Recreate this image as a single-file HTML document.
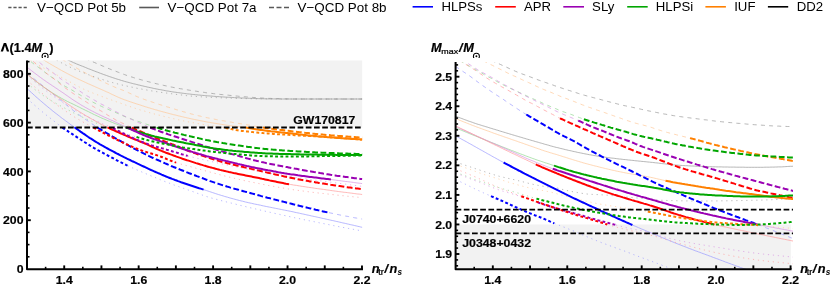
<!DOCTYPE html><html><head><meta charset="utf-8"><title>plot</title><style>html,body{margin:0;padding:0;background:#fff;}body{width:830px;height:286px;overflow:hidden;font-family:"Liberation Sans",sans-serif;}</style></head><body><svg width="830" height="286" viewBox="0 0 830 286" style="display:block;opacity:0.999">
<rect width="830" height="286" fill="#fff"/>
<defs>
<clipPath id="cl"><rect x="27.0" y="60.5" width="335.6" height="208.5"/></clipPath>
<clipPath id="cr"><rect x="455.6" y="62.0" width="337.4" height="207.0"/></clipPath>
<filter id="gs" x="0" y="0" width="830" height="286" filterUnits="userSpaceOnUse" color-interpolation-filters="sRGB"><feColorMatrix type="saturate" values="0"/></filter>
</defs>
<rect x="27.0" y="60.5" width="335.2" height="67.00" fill="#f2f2f2"/>
<rect x="455.6" y="224.45" width="335.19999999999993" height="44.55" fill="#f2f2f2"/>
<g clip-path="url(#cl)" fill="none">
<path d="M78.0 55.0 L79.5 55.7 L81.0 56.4 L82.5 57.1 L84.0 57.8 L85.5 58.5 L87.0 59.2 L88.5 59.9 L90.0 60.5 L91.5 61.2 L93.0 61.9 L94.5 62.5 L96.0 63.2 L97.5 63.8 L99.1 64.5 L100.6 65.1 L102.1 65.8 L103.6 66.4 L105.1 67.0 L106.6 67.6 L108.1 68.3 L109.6 68.9 L111.1 69.5 L112.6 70.1 L114.1 70.6 L115.6 71.2 L117.1 71.8 L118.6 72.4 L120.1 72.9 L121.6 73.5 L123.1 74.1 L124.6 74.6 L126.1 75.2 L127.6 75.7 L129.1 76.2 L130.6 76.7 L132.1 77.1 L133.6 77.6 L135.1 78.1 L136.6 78.5 L138.1 79.0 L139.7 79.4 L141.2 79.8 L142.7 80.2 L144.2 80.6 L145.7 81.0 L147.2 81.4 L148.7 81.8 L150.2 82.2 L151.7 82.6 L153.2 82.9 L154.7 83.3 L156.2 83.7 L157.7 84.0 L159.2 84.4 L160.7 84.7 L162.2 85.0 L163.7 85.4 L165.2 85.7 L166.7 86.0 L168.2 86.3 L169.7 86.7 L171.2 87.0 L172.7 87.3 L174.2 87.6 L175.7 87.8 L177.2 88.1 L178.7 88.4 L180.3 88.7 L181.8 88.9 L183.3 89.2 L184.8 89.4 L186.3 89.7 L187.8 89.9 L189.3 90.2 L190.8 90.4 L192.3 90.6 L193.8 90.9 L195.3 91.1 L196.8 91.3 L198.3 91.6 L199.8 91.8 L201.3 92.0 L202.8 92.2 L204.3 92.4 L205.8 92.7 L207.3 92.9 L208.8 93.1 L210.3 93.2 L211.8 93.4 L213.3 93.6 L214.8 93.8 L216.3 94.0 L217.8 94.1 L219.3 94.3 L220.9 94.5 L222.4 94.6 L223.9 94.8 L225.4 94.9 L226.9 95.1 L228.4 95.2 L229.9 95.4 L231.4 95.5 L232.9 95.7 L234.4 95.8 L235.9 96.0 L237.4 96.1 L238.9 96.3 L240.4 96.4 L241.9 96.5 L243.4 96.7 L244.9 96.8 L246.4 96.9 L247.9 97.0 L249.4 97.2 L250.9 97.3 L252.4 97.4 L253.9 97.5 L255.4 97.6 L256.9 97.7 L258.4 97.8 L259.9 97.9 L261.5 98.0 L263.0 98.1 L264.5 98.2 L266.0 98.2 L267.5 98.3 L269.0 98.4 L270.5 98.4 L272.0 98.5 L273.5 98.5 L275.0 98.6 L276.5 98.6 L278.0 98.6 L279.5 98.7 L281.0 98.7 L282.5 98.8 L284.0 98.8 L285.5 98.8 L287.0 98.9 L288.5 98.9 L290.0 98.9 L291.5 98.9 L293.0 99.0 L294.5 99.0 L296.0 99.0 L297.5 99.0 L299.0 99.0 L300.5 99.0 L302.1 99.0 L303.6 99.0 L305.1 99.0 L306.6 99.0 L308.1 99.0 L309.6 99.0 L311.1 99.0 L312.6 99.0 L314.1 99.0 L315.6 99.0 L317.1 99.0 L318.6 99.0 L320.1 99.0 L321.6 99.0 L323.1 99.0 L324.6 99.0 L326.1 99.0 L327.6 99.0 L329.1 99.0 L330.6 99.0 L332.1 99.0 L333.6 99.0 L335.1 99.0 L336.6 99.0 L338.1 99.0 L339.6 99.0 L341.1 99.0 L342.7 99.0 L344.2 99.0 L345.7 99.0 L347.2 99.0 L348.7 99.0 L350.2 99.0 L351.7 99.0 L353.2 99.0 L354.7 99.0 L356.2 99.0 L357.7 99.0 L359.2 99.0 L360.7 99.0 L362.2 99.0" stroke="#9a9a9a" stroke-width="0.72" stroke-dasharray="4 4.2"/>
<path d="M55.0 55.0 L56.5 55.9 L58.0 56.8 L59.5 57.7 L61.0 58.6 L62.5 59.6 L64.0 60.5 L65.5 61.4 L67.0 62.3 L68.5 63.2 L70.0 64.2 L71.5 65.1 L73.0 65.9 L74.5 66.8 L75.9 67.7 L77.4 68.5 L78.9 69.4 L80.4 70.2 L81.9 71.1 L83.4 71.9 L84.9 72.7 L86.4 73.5 L87.9 74.3 L89.4 75.1 L90.9 75.8 L92.4 76.6 L93.9 77.3 L95.4 78.1 L96.9 78.8 L98.4 79.5 L99.9 80.3 L101.4 81.0 L102.9 81.7 L104.4 82.4 L105.9 83.1 L107.4 83.8 L108.9 84.5 L110.4 85.2 L111.9 85.9 L113.4 86.5 L114.9 87.2 L116.4 87.8 L117.8 88.4 L119.3 88.9 L120.8 89.5 L122.3 90.0 L123.8 90.6 L125.3 91.2 L126.8 91.9 L128.3 92.6 L129.8 93.3 L131.3 94.0 L132.8 94.7 L134.3 95.4 L135.8 96.1 L137.3 96.7 L138.8 97.3 L140.3 97.9 L141.8 98.5 L143.3 99.0 L144.8 99.6 L146.3 100.1 L147.8 100.6 L149.3 101.1 L150.8 101.6 L152.3 102.1 L153.8 102.6 L155.3 103.1 L156.8 103.6 L158.3 104.1 L159.7 104.6 L161.2 105.0 L162.7 105.5 L164.2 106.0 L165.7 106.4 L167.2 106.9 L168.7 107.3 L170.2 107.8 L171.7 108.2 L173.2 108.7 L174.7 109.1 L176.2 109.6 L177.7 110.0 L179.2 110.5 L180.7 110.9 L182.2 111.4 L183.7 111.8 L185.2 112.2 L186.7 112.7 L188.2 113.1 L189.7 113.5 L191.2 113.9 L192.7 114.3 L194.2 114.7 L195.7 115.0 L197.2 115.4 L198.7 115.8 L200.2 116.1 L201.6 116.5 L203.1 116.8 L204.6 117.2 L206.1 117.5 L207.6 117.8 L209.1 118.1 L210.6 118.4 L212.1 118.7 L213.6 119.0 L215.1 119.3 L216.6 119.6 L218.1 119.9 L219.6 120.1 L221.1 120.4 L222.6 120.7 L224.1 120.9 L225.6 121.2 L227.1 121.4 L228.6 121.7 L230.1 122.0 L231.6 122.2 L233.1 122.5 L234.6 122.7 L236.1 123.0 L237.6 123.2 L239.1 123.5 L240.6 123.7 L242.1 124.0 L243.5 124.2 L245.0 124.5 L246.5 124.7 L248.0 125.0 L249.5 125.2 L251.0 125.5 L252.5 125.8 L254.0 126.1 L255.5 126.3 L257.0 126.6 L258.5 126.9 L260.0 127.1 L261.5 127.4 L263.0 127.6" stroke="#ffc999" stroke-width="0.72" stroke-dasharray="4 4.2"/>
<path d="M25.0 56.0 L26.5 57.5 L28.0 59.0 L29.5 60.4 L31.0 61.7 L32.5 62.9 L34.0 64.1 L35.5 65.2 L37.0 66.3 L38.5 67.4 L40.0 68.5 L41.5 69.6 L43.0 70.7 L44.5 71.9 L46.0 73.1 L47.5 74.3 L49.0 75.4 L50.5 76.5 L52.0 77.4 L53.5 78.3 L55.0 79.3 L56.5 80.2 L58.0 81.3 L59.5 82.5 L61.0 83.7 L62.5 84.8 L64.0 85.7 L65.5 86.5 L67.0 87.3 L68.5 88.1 L70.0 88.9 L71.5 89.8 L73.0 90.7 L74.5 91.6 L76.0 92.6 L77.5 93.5 L79.0 94.4 L80.5 95.2 L82.0 96.1 L83.5 96.9 L85.0 97.8 L86.5 98.6 L88.0 99.5 L89.5 100.3 L91.0 101.1 L92.4 101.9 L93.9 102.7 L95.4 103.4 L96.9 104.2 L98.4 104.9 L99.9 105.6 L101.4 106.3 L102.9 107.0 L104.4 107.7 L105.9 108.4 L107.4 109.0 L108.9 109.7 L110.4 110.3 L111.9 110.9 L113.4 111.5 L114.9 112.1 L116.4 112.8 L117.9 113.5 L119.4 114.2 L120.9 114.9 L122.4 115.6 L123.9 116.2 L125.4 116.8 L126.9 117.4 L128.4 117.9 L129.9 118.5 L131.4 119.0 L132.9 119.6 L134.4 120.1 L135.9 120.6 L137.4 121.1 L138.9 121.6 L140.4 122.1 L141.9 122.7 L143.4 123.2 L144.9 123.7 L146.4 124.2 L147.9 124.7 L149.4 125.2 L150.9 125.7 L152.4 126.2 L153.9 126.7 L155.4 127.1 L156.9 127.6" stroke="#94d894" stroke-width="0.72" stroke-dasharray="4 4.2"/>
<path d="M27.0 52.0 L28.5 53.3 L30.0 54.5 L31.5 55.8 L33.0 57.1 L34.5 58.3 L36.0 59.6 L37.5 60.8 L39.0 62.0 L40.5 63.3 L42.0 64.5 L43.5 65.7 L45.0 66.8 L46.5 67.9 L48.1 69.0 L49.6 70.1 L51.1 71.2 L52.6 72.4 L54.1 73.6 L55.6 74.8 L57.1 76.0 L58.6 77.2 L60.1 78.3 L61.6 79.4 L63.1 80.5 L64.6 81.5 L66.1 82.5 L67.6 83.4 L69.1 84.4 L70.6 85.3 L72.1 86.3 L73.6 87.2 L75.1 88.2 L76.6 89.1 L78.1 90.1 L79.6 91.0 L81.1 92.0 L82.6 93.0 L84.1 94.0 L85.6 95.0 L87.1 95.9 L88.7 96.8 L90.2 97.7 L91.7 98.5 L93.2 99.4 L94.7 100.3 L96.2 101.2 L97.7 102.1 L99.2 103.0 L100.7 103.8 L102.2 104.5 L103.7 105.3 L105.2 106.0 L106.7 106.8 L108.2 107.6 L109.7 108.4 L111.2 109.2 L112.7 110.0 L114.2 110.8 L115.7 111.6 L117.2 112.3 L118.7 113.1 L120.2 113.9 L121.7 114.7 L123.2 115.4 L124.7 116.2 L126.2 116.9 L127.7 117.6 L129.2 118.3 L130.8 119.0 L132.3 119.7 L133.8 120.4 L135.3 121.1 L136.8 121.8 L138.3 122.5 L139.8 123.1 L141.3 123.8 L142.8 124.5 L144.3 125.1 L145.8 125.7 L147.3 126.4 L148.8 127.0 L150.3 127.6" stroke="#d894e2" stroke-width="0.72" stroke-dasharray="4 4.2"/>
<path d="M27.0 56.0 L28.5 57.3 L30.0 58.6 L31.5 59.9 L33.0 61.3 L34.5 62.6 L36.0 64.0 L37.5 65.3 L39.0 66.7 L40.5 68.1 L42.0 69.5 L43.5 70.8 L44.9 72.1 L46.4 73.3 L47.9 74.4 L49.4 75.4 L50.9 76.5 L52.4 77.6 L53.9 78.8 L55.4 80.0 L56.9 81.2 L58.4 82.5 L59.9 83.7 L61.4 84.9 L62.9 86.1 L64.4 87.3 L65.9 88.4 L67.4 89.5 L68.9 90.5 L70.4 91.6 L71.9 92.6 L73.4 93.6 L74.9 94.6 L76.4 95.6 L77.9 96.6 L79.3 97.6 L80.8 98.5 L82.3 99.5 L83.8 100.4 L85.3 101.4 L86.8 102.3 L88.3 103.3 L89.8 104.4 L91.3 105.4 L92.8 106.3 L94.3 107.2 L95.8 108.1 L97.3 108.9 L98.8 109.7 L100.3 110.5 L101.8 111.4 L103.3 112.3 L104.8 113.3 L106.3 114.2 L107.8 115.2 L109.3 116.1 L110.8 117.0 L112.3 117.9 L113.8 118.7 L115.2 119.6 L116.7 120.4 L118.2 121.1 L119.7 121.9 L121.2 122.6 L122.7 123.3 L124.2 124.0 L125.7 124.8 L127.2 125.5 L128.7 126.2 L130.2 126.9 L131.7 127.6" stroke="#ff9c9c" stroke-width="0.72" stroke-dasharray="4 4.2"/>
<path d="M27.0 73.5 L28.5 74.6 L30.0 75.7 L31.5 76.9 L33.0 78.0 L34.5 79.2 L36.0 80.3 L37.5 81.5 L39.0 82.7 L40.5 83.9 L42.0 85.1 L43.5 86.3 L45.0 87.5 L46.5 88.8 L48.0 90.0 L49.5 91.2 L51.0 92.4 L52.5 93.6 L54.0 94.8 L55.5 96.0 L57.0 97.2 L58.5 98.4 L60.0 99.6 L61.5 100.8 L63.0 102.0 L64.5 103.2 L66.0 104.5 L67.5 105.7 L69.0 107.0 L70.5 108.2 L72.0 109.4 L73.5 110.7 L75.0 111.8 L76.5 113.0 L78.0 114.1 L79.5 115.2 L81.0 116.3 L82.5 117.3 L84.0 118.4 L85.5 119.4 L87.0 120.4 L88.5 121.4 L90.0 122.5 L91.5 123.5 L93.0 124.5 L94.5 125.5 L96.0 126.5 L97.5 127.5 M329.1 212.7 L330.6 213.0 L332.1 213.3 L333.6 213.6 L335.1 214.0 L336.6 214.3 L338.1 214.6 L339.6 214.9 L341.1 215.2 L342.6 215.5 L344.1 215.8 L345.6 216.1 L347.2 216.3 L348.7 216.6 L350.2 216.9 L351.7 217.2 L353.2 217.5 L354.7 217.8 L356.2 218.0 L357.7 218.3 L359.2 218.6 L360.7 218.8 L362.2 219.1" stroke="#9c9cff" stroke-width="0.72" stroke-dasharray="4 4.2"/>
<path d="M60.0 55.0 L61.5 56.0 L63.0 57.0 L64.5 57.9 L66.0 58.8 L67.5 59.7 L69.0 60.5 L70.5 61.2 L72.0 61.9 L73.5 62.6 L75.0 63.2 L76.5 63.9 L78.0 64.5 L79.5 65.1 L81.0 65.7 L82.6 66.3 L84.1 66.9 L85.6 67.5 L87.1 68.2 L88.6 68.8 L90.1 69.3 L91.6 69.9 L93.1 70.5 L94.6 71.1 L96.1 71.7 L97.6 72.2 L99.1 72.8 L100.6 73.4 L102.1 73.9 L103.6 74.5 L105.1 75.0 L106.6 75.5 L108.1 76.1 L109.6 76.6 L111.1 77.1 L112.6 77.6 L114.1 78.1 L115.6 78.6 L117.1 79.1 L118.6 79.5 L120.1 80.0 L121.6 80.5 L123.1 80.9 L124.6 81.4 L126.2 81.8 L127.7 82.2 L129.2 82.6 L130.7 83.0 L132.2 83.4 L133.7 83.8 L135.2 84.1 L136.7 84.5 L138.2 84.9 L139.7 85.2 L141.2 85.6 L142.7 85.9 L144.2 86.3 L145.7 86.6 L147.2 87.0 L148.7 87.3 L150.2 87.6 L151.7 87.9 L153.2 88.3 L154.7 88.6 L156.2 88.9 L157.7 89.2 L159.2 89.5 L160.7 89.7 L162.2 90.0 L163.7 90.3 L165.2 90.6 L166.7 90.9 L168.3 91.1 L169.8 91.4 L171.3 91.6 L172.8 91.9 L174.3 92.1 L175.8 92.3 L177.3 92.5 L178.8 92.7 L180.3 92.9 L181.8 93.1 L183.3 93.3 L184.8 93.5 L186.3 93.7 L187.8 93.9 L189.3 94.0 L190.8 94.2 L192.3 94.4 L193.8 94.5 L195.3 94.7 L196.8 94.8 L198.3 95.0 L199.8 95.1 L201.3 95.3 L202.8 95.4 L204.3 95.5 L205.8 95.7 L207.3 95.8 L208.8 95.9 L210.3 96.0 L211.9 96.1 L213.4 96.3 L214.9 96.4 L216.4 96.5 L217.9 96.6 L219.4 96.7 L220.9 96.8 L222.4 96.9 L223.9 97.0 L225.4 97.1 L226.9 97.2 L228.4 97.3 L229.9 97.3 L231.4 97.4 L232.9 97.5 L234.4 97.6 L235.9 97.7 L237.4 97.7 L238.9 97.8 L240.4 97.9 L241.9 98.0 L243.4 98.0 L244.9 98.1 L246.4 98.2 L247.9 98.2 L249.4 98.3 L250.9 98.3 L252.4 98.4 L253.9 98.5 L255.5 98.5 L257.0 98.6 L258.5 98.6 L260.0 98.7 L261.5 98.7 L263.0 98.8 L264.5 98.8 L266.0 98.8 L267.5 98.9 L269.0 98.9 L270.5 98.9 L272.0 98.9 L273.5 98.9 L275.0 98.9 L276.5 98.9 L278.0 98.9 L279.5 99.0 L281.0 99.0 L282.5 99.0 L284.0 99.0 L285.5 99.0 L287.0 99.0 L288.5 99.0 L290.0 99.0 L291.5 99.0 L293.0 99.0 L294.5 99.0 L296.0 99.0 L297.6 99.0 L299.1 99.0 L300.6 99.0 L302.1 99.0 L303.6 99.0 L305.1 99.0 L306.6 99.0 L308.1 99.0 L309.6 99.0 L311.1 99.0 L312.6 99.0 L314.1 99.0 L315.6 99.0 L317.1 99.0 L318.6 99.0 L320.1 99.0 L321.6 99.0 L323.1 99.0 L324.6 99.0 L326.1 99.0 L327.6 99.0 L329.1 99.0 L330.6 99.0 L332.1 99.0 L333.6 99.0 L335.1 99.0 L336.6 99.0 L338.1 99.0 L339.6 99.0 L341.2 99.0 L342.7 99.0 L344.2 99.0 L345.7 99.0 L347.2 99.0 L348.7 99.0 L350.2 99.0 L351.7 99.0 L353.2 99.0 L354.7 99.0 L356.2 99.0 L357.7 99.0 L359.2 99.0 L360.7 99.0 L362.2 99.0" stroke="#9a9a9a" stroke-width="0.72"/>
<path d="M36.0 55.0 L37.5 56.0 L39.0 57.0 L40.5 58.0 L42.0 58.9 L43.5 59.9 L45.0 60.8 L46.5 61.7 L48.0 62.6 L49.5 63.5 L51.0 64.4 L52.5 65.3 L54.0 66.1 L55.5 67.0 L57.0 67.8 L58.4 68.7 L59.9 69.5 L61.4 70.4 L62.9 71.2 L64.4 72.0 L65.9 72.8 L67.4 73.6 L68.9 74.4 L70.4 75.2 L71.9 75.9 L73.4 76.7 L74.9 77.5 L76.4 78.2 L77.9 78.9 L79.4 79.6 L80.9 80.3 L82.4 81.0 L83.9 81.7 L85.4 82.4 L86.9 83.1 L88.4 83.8 L89.9 84.4 L91.4 85.1 L92.9 85.8 L94.4 86.4 L95.9 87.1 L97.4 87.7 L98.8 88.4 L100.3 89.0 L101.8 89.7 L103.3 90.3 L104.8 91.0 L106.3 91.7 L107.8 92.3 L109.3 93.0 L110.8 93.8 L112.3 94.5 L113.8 95.2 L115.3 95.9 L116.8 96.6 L118.3 97.3 L119.8 97.9 L121.3 98.5 L122.8 99.1 L124.3 99.7 L125.8 100.2 L127.3 100.7 L128.8 101.3 L130.3 101.8 L131.8 102.3 L133.3 102.8 L134.8 103.3 L136.3 103.8 L137.8 104.3 L139.3 104.7 L140.8 105.2 L142.2 105.7 L143.7 106.2 L145.2 106.7 L146.7 107.1 L148.2 107.6 L149.7 108.0 L151.2 108.5 L152.7 108.9 L154.2 109.4 L155.7 109.8 L157.2 110.2 L158.7 110.7 L160.2 111.1 L161.7 111.5 L163.2 111.9 L164.7 112.3 L166.2 112.7 L167.7 113.1 L169.2 113.5 L170.7 113.9 L172.2 114.3 L173.7 114.7 L175.2 115.0 L176.7 115.4 L178.2 115.8 L179.7 116.1 L181.2 116.5 L182.7 116.8 L184.1 117.2 L185.6 117.5 L187.1 117.9 L188.6 118.2 L190.1 118.5 L191.6 118.9 L193.1 119.2 L194.6 119.5 L196.1 119.8 L197.6 120.1 L199.1 120.4 L200.6 120.7 L202.1 121.0 L203.6 121.3 L205.1 121.6 L206.6 121.9 L208.1 122.2 L209.6 122.4 L211.1 122.7 L212.6 122.9 L214.1 123.2 L215.6 123.4 L217.1 123.7 L218.6 123.9 L220.1 124.2 L221.6 124.4 L223.1 124.6 L224.6 124.9 L226.0 125.1 L227.5 125.3 L229.0 125.5 L230.5 125.7 L232.0 125.9 L233.5 126.1 L235.0 126.2 L236.5 126.4 L238.0 126.6 L239.5 126.8 L241.0 126.9 L242.5 127.1 L244.0 127.3 L245.5 127.5" stroke="#ffc999" stroke-width="0.72"/>
<path d="M27.0 74.0 L28.5 75.3 L30.0 76.5 L31.5 77.8 L33.0 79.0 L34.5 80.2 L36.0 81.4 L37.5 82.5 L39.0 83.7 L40.5 84.8 L42.0 85.9 L43.5 87.0 L45.0 88.0 L46.5 89.1 L48.0 90.1 L49.5 91.1 L51.0 92.0 L52.5 93.0 L54.0 93.9 L55.5 94.8 L57.0 95.7 L58.5 96.6 L60.0 97.4 L61.5 98.3 L63.0 99.1 L64.5 99.9 L66.0 100.7 L67.5 101.5 L69.0 102.2 L70.5 102.9 L72.0 103.6 L73.5 104.4 L75.0 105.1 L76.5 105.8 L78.0 106.6 L79.5 107.3 L81.0 108.1 L82.5 108.8 L84.0 109.5 L85.5 110.3 L87.0 111.0 L88.5 111.7 L90.0 112.5 L91.5 113.2 L93.0 114.0 L94.5 114.7 L96.0 115.4 L97.5 116.1 L99.0 116.8 L100.5 117.5 L102.0 118.2 L103.5 118.8 L105.0 119.4 L106.5 120.1 L108.0 120.7 L109.5 121.3 L111.0 121.9 L112.5 122.5 L114.0 123.1 L115.5 123.7 L117.0 124.2 L118.5 124.8 L120.0 125.3 L121.5 125.9 L123.0 126.4 L124.5 127.0 L126.0 127.5" stroke="#94d894" stroke-width="0.72"/>
<path d="M27.0 67.2 L28.5 68.4 L30.0 69.5 L31.5 70.7 L33.0 71.8 L34.5 73.0 L36.0 74.1 L37.4 75.2 L38.9 76.3 L40.4 77.4 L41.9 78.5 L43.4 79.6 L44.9 80.6 L46.4 81.7 L47.9 82.7 L49.4 83.7 L50.9 84.7 L52.4 85.7 L53.9 86.7 L55.4 87.7 L56.9 88.7 L58.3 89.7 L59.8 90.7 L61.3 91.7 L62.8 92.7 L64.3 93.7 L65.8 94.8 L67.3 95.8 L68.8 96.9 L70.3 97.9 L71.8 99.0 L73.3 100.0 L74.8 100.9 L76.3 101.9 L77.7 102.8 L79.2 103.7 L80.7 104.7 L82.2 105.6 L83.7 106.4 L85.2 107.3 L86.7 108.1 L88.2 109.0 L89.7 109.8 L91.2 110.6 L92.7 111.3 L94.2 112.1 L95.7 112.9 L97.1 113.6 L98.6 114.3 L100.1 115.1 L101.6 115.8 L103.1 116.5 L104.6 117.2 L106.1 117.8 L107.6 118.5 L109.1 119.2 L110.6 119.9 L112.1 120.5 L113.6 121.2 L115.1 121.9 L116.6 122.6 L118.0 123.3 L119.5 124.0 L121.0 124.7 L122.5 125.4 L124.0 126.1 L125.5 126.8 L127.0 127.5 M330.9 179.5 L332.4 179.7 L333.9 179.9 L335.4 180.1 L336.9 180.3 L338.4 180.5 L339.8 180.7 L341.3 180.9 L342.8 181.1 L344.3 181.3 L345.8 181.5 L347.3 181.6 L348.8 181.8 L350.3 182.0 L351.8 182.2 L353.3 182.4 L354.7 182.6 L356.2 182.8 L357.7 183.0 L359.2 183.2 L360.7 183.4 L362.2 183.6" stroke="#d894e2" stroke-width="0.72"/>
<path d="M27.0 74.2 L28.5 75.4 L30.0 76.5 L31.5 77.7 L33.0 78.8 L34.5 80.0 L35.9 81.1 L37.4 82.2 L38.9 83.4 L40.4 84.5 L41.9 85.6 L43.4 86.7 L44.9 87.8 L46.4 88.9 L47.9 90.0 L49.4 91.1 L50.9 92.1 L52.3 93.2 L53.8 94.2 L55.3 95.3 L56.8 96.3 L58.3 97.4 L59.8 98.4 L61.3 99.4 L62.8 100.5 L64.3 101.5 L65.8 102.6 L67.2 103.6 L68.7 104.7 L70.2 105.7 L71.7 106.7 L73.2 107.7 L74.7 108.7 L76.2 109.7 L77.7 110.6 L79.2 111.6 L80.7 112.5 L82.2 113.4 L83.6 114.3 L85.1 115.2 L86.6 116.1 L88.1 116.9 L89.6 117.8 L91.1 118.7 L92.6 119.5 L94.1 120.3 L95.6 121.2 L97.1 122.0 L98.6 122.8 L100.0 123.6 L101.5 124.4 L103.0 125.2 L104.5 125.9 L106.0 126.7 L107.5 127.4 M289.0 184.2 L290.5 184.5 L292.0 184.7 L293.5 185.0 L295.0 185.2 L296.5 185.4 L298.0 185.7 L299.5 185.9 L301.0 186.2 L302.4 186.4 L303.9 186.6 L305.4 186.8 L306.9 187.1 L308.4 187.3 L309.9 187.5 L311.4 187.7 L312.9 187.9 L314.4 188.2 L315.9 188.4 L317.4 188.6 L318.9 188.8 L320.4 189.0 L321.9 189.2 L323.4 189.4 L324.9 189.6 L326.3 189.8 L327.8 190.0 L329.3 190.2 L330.8 190.5 L332.3 190.7 L333.8 190.9 L335.3 191.1 L336.8 191.3 L338.3 191.5 L339.8 191.7 L341.3 191.9 L342.8 192.1 L344.3 192.3 L345.8 192.4 L347.3 192.6 L348.8 192.8 L350.2 193.0 L351.7 193.2 L353.2 193.4 L354.7 193.6 L356.2 193.8 L357.7 194.0 L359.2 194.1 L360.7 194.3 L362.2 194.5" stroke="#ff9c9c" stroke-width="0.72"/>
<path d="M27.0 88.5 L28.5 89.9 L30.0 91.3 L31.5 92.6 L32.9 94.0 L34.4 95.3 L35.9 96.7 L37.4 98.0 L38.9 99.3 L40.4 100.6 L41.8 101.8 L43.3 103.1 L44.8 104.4 L46.3 105.6 L47.8 106.9 L49.3 108.1 L50.8 109.3 L52.2 110.5 L53.7 111.7 L55.2 112.9 L56.7 114.0 L58.2 115.2 L59.7 116.3 L61.1 117.5 L62.6 118.6 L64.1 119.7 L65.6 120.8 L67.1 121.9 L68.6 123.0 L70.0 124.1 L71.5 125.2 L73.0 126.2 L74.5 127.3 M203.6 189.6 L205.1 190.1 L206.6 190.6 L208.1 191.1 L209.6 191.6 L211.1 192.1 L212.6 192.6 L214.1 193.1 L215.6 193.6 L217.1 194.1 L218.6 194.6 L220.1 195.0 L221.6 195.5 L223.1 195.9 L224.5 196.4 L226.0 196.8 L227.5 197.2 L229.0 197.7 L230.5 198.1 L232.0 198.5 L233.5 198.9 L235.0 199.3 L236.5 199.7 L238.0 200.1 L239.5 200.5 L241.0 200.9 L242.5 201.2 L244.0 201.6 L245.5 202.0 L247.0 202.3 L248.5 202.7 L250.0 203.0 L251.5 203.3 L253.0 203.7 L254.5 204.0 L256.0 204.3 L257.5 204.6 L259.0 204.9 L260.5 205.2 L262.0 205.6 L263.4 205.9 L264.9 206.2 L266.4 206.5 L267.9 206.8 L269.4 207.1 L270.9 207.4 L272.4 207.7 L273.9 208.0 L275.4 208.3 L276.9 208.6 L278.4 208.9 L279.9 209.2 L281.4 209.5 L282.9 209.8 L284.4 210.1 L285.9 210.4 L287.4 210.7 L288.9 211.0 L290.4 211.3 L291.9 211.6 L293.4 211.9 L294.9 212.3 L296.4 212.6 L297.9 212.9 L299.4 213.2 L300.9 213.6 L302.4 213.9 L303.8 214.2 L305.3 214.5 L306.8 214.9 L308.3 215.2 L309.8 215.5 L311.3 215.9 L312.8 216.2 L314.3 216.5 L315.8 216.8 L317.3 217.2 L318.8 217.5 L320.3 217.8 L321.8 218.2 L323.3 218.5 L324.8 218.8 L326.3 219.2 L327.8 219.5 L329.3 219.8 L330.8 220.2 L332.3 220.5 L333.8 220.8 L335.3 221.2 L336.8 221.5 L338.3 221.8 L339.8 222.2 L341.3 222.5 L342.7 222.9 L344.2 223.2 L345.7 223.5 L347.2 223.9 L348.7 224.2 L350.2 224.6 L351.7 224.9 L353.2 225.2 L354.7 225.6 L356.2 225.9 L357.7 226.3 L359.2 226.6 L360.7 227.0 L362.2 227.3" stroke="#9c9cff" stroke-width="0.72"/>
<path d="M48.0 55.0 L49.5 55.9 L51.0 56.8 L52.5 57.7 L54.0 58.6 L55.5 59.5 L57.0 60.3 L58.5 61.2 L60.0 62.0 L61.5 62.8 L63.0 63.6 L64.5 64.4 L66.0 65.2 L67.5 65.9 L69.0 66.7 L70.6 67.4 L72.1 68.1 L73.6 68.7 L75.1 69.4 L76.6 70.0 L78.1 70.7 L79.6 71.3 L81.1 71.9 L82.6 72.5 L84.1 73.0 L85.6 73.6 L87.1 74.2 L88.6 74.7 L90.1 75.3 L91.6 75.9 L93.1 76.4 L94.6 76.9 L96.1 77.5 L97.6 78.0 L99.1 78.5 L100.6 79.0 L102.1 79.4 L103.6 79.9 L105.1 80.4 L106.6 80.8 L108.1 81.3 L109.6 81.7 L111.1 82.1 L112.6 82.6 L114.1 83.0 L115.7 83.4 L117.2 83.8 L118.7 84.2 L120.2 84.5 L121.7 84.9 L123.2 85.3 L124.7 85.6 L126.2 85.9 L127.7 86.3 L129.2 86.6 L130.7 86.9 L132.2 87.2 L133.7 87.6 L135.2 87.9 L136.7 88.2 L138.2 88.5 L139.7 88.7 L141.2 89.0 L142.7 89.3 L144.2 89.6 L145.7 89.8 L147.2 90.1 L148.7 90.4 L150.2 90.6 L151.7 90.9 L153.2 91.1 L154.7 91.3 L156.2 91.6 L157.7 91.8 L159.2 92.0 L160.8 92.3 L162.3 92.5 L163.8 92.7 L165.3 92.9 L166.8 93.1 L168.3 93.3 L169.8 93.5 L171.3 93.7 L172.8 93.9 L174.3 94.1 L175.8 94.3 L177.3 94.5 L178.8 94.7 L180.3 94.9 L181.8 95.0 L183.3 95.2 L184.8 95.4 L186.3 95.6 L187.8 95.7 L189.3 95.9 L190.8 96.0 L192.3 96.2 L193.8 96.3 L195.3 96.4 L196.8 96.5 L198.3 96.6 L199.8 96.7 L201.3 96.8 L202.8 96.9 L204.3 97.0 L205.9 97.1 L207.4 97.2 L208.9 97.2 L210.4 97.3 L211.9 97.4 L213.4 97.5 L214.9 97.5 L216.4 97.6 L217.9 97.7 L219.4 97.7 L220.9 97.8 L222.4 97.9 L223.9 97.9 L225.4 98.0 L226.9 98.0 L228.4 98.1 L229.9 98.1 L231.4 98.2 L232.9 98.2 L234.4 98.3 L235.9 98.3 L237.4 98.4 L238.9 98.4 L240.4 98.5 L241.9 98.5 L243.4 98.6 L244.9 98.6 L246.4 98.6 L247.9 98.7 L249.4 98.7 L251.0 98.7 L252.5 98.7 L254.0 98.8 L255.5 98.8 L257.0 98.8 L258.5 98.8 L260.0 98.8 L261.5 98.8 L263.0 98.9 L264.5 98.9 L266.0 98.9 L267.5 98.9 L269.0 98.9 L270.5 98.9 L272.0 98.9 L273.5 98.9 L275.0 98.9 L276.5 98.9 L278.0 98.9 L279.5 98.9 L281.0 99.0 L282.5 99.0 L284.0 99.0 L285.5 99.0 L287.0 99.0 L288.5 99.0 L290.0 99.0 L291.5 99.0 L293.0 99.0 L294.5 99.0 L296.1 99.0 L297.6 99.0 L299.1 99.0 L300.6 99.0 L302.1 99.0 L303.6 99.0 L305.1 99.0 L306.6 99.0 L308.1 99.0 L309.6 99.0 L311.1 99.0 L312.6 99.0 L314.1 99.0 L315.6 99.0 L317.1 99.0 L318.6 99.0 L320.1 99.0 L321.6 99.0 L323.1 99.0 L324.6 99.0 L326.1 99.0 L327.6 99.0 L329.1 99.0 L330.6 99.0 L332.1 99.0 L333.6 99.0 L335.1 99.0 L336.6 99.0 L338.1 99.0 L339.6 99.0 L341.2 99.0 L342.7 99.0 L344.2 99.0 L345.7 99.0 L347.2 99.0 L348.7 99.0 L350.2 99.0 L351.7 99.0 L353.2 99.0 L354.7 99.0 L356.2 99.0 L357.7 99.0 L359.2 99.0 L360.7 99.0 L362.2 99.0" stroke="#9a9a9a" stroke-width="0.72" stroke-dasharray="1.2 3.8"/>
<path d="M22.0 55.0 L23.5 55.9 L25.0 56.9 L26.5 57.8 L28.0 58.7 L29.5 59.6 L31.0 60.5 L32.5 61.4 L34.0 62.3 L35.5 63.2 L37.0 64.1 L38.5 65.0 L40.0 65.8 L41.5 66.7 L42.9 67.6 L44.4 68.4 L45.9 69.3 L47.4 70.1 L48.9 70.9 L50.4 71.7 L51.9 72.4 L53.4 73.2 L54.9 74.0 L56.4 74.7 L57.9 75.5 L59.4 76.2 L60.9 77.0 L62.4 77.8 L63.9 78.6 L65.4 79.4 L66.9 80.2 L68.4 81.1 L69.9 81.9 L71.4 82.7 L72.9 83.6 L74.4 84.4 L75.9 85.2 L77.4 86.0 L78.9 86.8 L80.4 87.5 L81.9 88.3 L83.3 89.0 L84.8 89.6 L86.3 90.3 L87.8 90.9 L89.3 91.6 L90.8 92.2 L92.3 92.8 L93.8 93.4 L95.3 94.0 L96.8 94.6 L98.3 95.1 L99.8 95.7 L101.3 96.3 L102.8 96.8 L104.3 97.4 L105.8 98.0 L107.3 98.5 L108.8 99.1 L110.3 99.6 L111.8 100.1 L113.3 100.7 L114.8 101.2 L116.3 101.7 L117.8 102.3 L119.3 102.8 L120.8 103.3 L122.3 103.8 L123.8 104.3 L125.2 104.9 L126.7 105.4 L128.2 105.9 L129.7 106.4 L131.2 107.0 L132.7 107.5 L134.2 108.0 L135.7 108.5 L137.2 109.0 L138.7 109.4 L140.2 109.9 L141.7 110.3 L143.2 110.8 L144.7 111.2 L146.2 111.7 L147.7 112.1 L149.2 112.5 L150.7 113.0 L152.2 113.4 L153.7 113.8 L155.2 114.2 L156.7 114.6 L158.2 115.0 L159.7 115.3 L161.2 115.7 L162.7 116.1 L164.2 116.5 L165.6 116.8 L167.1 117.2 L168.6 117.5 L170.1 117.9 L171.6 118.2 L173.1 118.6 L174.6 118.9 L176.1 119.3 L177.6 119.6 L179.1 119.9 L180.6 120.2 L182.1 120.6 L183.6 120.9 L185.1 121.2 L186.6 121.5 L188.1 121.8 L189.6 122.1 L191.1 122.4 L192.6 122.7 L194.1 122.9 L195.6 123.2 L197.1 123.5 L198.6 123.7 L200.1 123.9 L201.6 124.2 L203.1 124.4 L204.6 124.6 L206.0 124.9 L207.5 125.1 L209.0 125.3 L210.5 125.6 L212.0 125.8 L213.5 126.1 L215.0 126.3 L216.5 126.5 L218.0 126.8 L219.5 127.0 L221.0 127.3 L222.5 127.5 L224.0 127.7 L225.5 128.0" stroke="#ffc999" stroke-width="0.72" stroke-dasharray="1.2 3.8"/>
<path d="M27.0 83.0 L28.5 84.3 L30.0 85.6 L31.5 86.8 L33.0 88.1 L34.5 89.3 L36.0 90.4 L37.5 91.5 L39.0 92.6 L40.5 93.7 L42.0 94.7 L43.5 95.7 L45.0 96.7 L46.5 97.7 L48.0 98.6 L49.5 99.5 L51.0 100.5 L52.5 101.4 L54.0 102.2 L55.5 103.1 L57.0 103.9 L58.5 104.8 L60.0 105.6 L61.5 106.4 L63.0 107.2 L64.5 108.0 L66.0 108.8 L67.5 109.6 L69.0 110.4 L70.5 111.2 L72.0 112.0 L73.5 112.8 L75.0 113.6 L76.5 114.3 L78.0 115.0 L79.5 115.8 L81.0 116.5 L82.5 117.2 L84.0 117.8 L85.5 118.5 L87.0 119.2 L88.5 119.8 L90.0 120.4 L91.5 121.1 L93.0 121.7 L94.5 122.3 L96.0 122.9 L97.5 123.5 L99.0 124.1 L100.5 124.7 L102.0 125.3 L103.5 125.9 L105.0 126.4 L106.5 127.0 L108.0 127.5 L109.5 128.1 L111.0 128.6 L112.5 129.1 L114.0 129.7 L115.5 130.2 L117.0 130.7 L118.5 131.2 L120.0 131.7 L121.5 132.2 L123.0 132.7 L124.5 133.2 L126.0 133.6 L127.5 134.1 L129.0 134.6 L130.5 135.1 L132.0 135.5 L133.5 136.0 L135.0 136.5 L136.5 136.9" stroke="#94d894" stroke-width="0.72" stroke-dasharray="1.2 3.8"/>
<path d="M27.0 75.0 L28.5 76.3 L30.0 77.7 L31.5 79.0 L33.0 80.3 L34.5 81.6 L36.1 82.8 L37.6 84.1 L39.1 85.3 L40.6 86.5 L42.1 87.7 L43.6 88.9 L45.1 90.1 L46.6 91.2 L48.1 92.4 L49.6 93.5 L51.1 94.6 L52.6 95.7 L54.2 96.7 L55.7 97.8 L57.2 98.8 L58.7 99.9 L60.2 100.9 L61.7 101.9 L63.2 102.9 L64.7 103.8 L66.2 104.8 L67.7 105.7 L69.2 106.6 L70.8 107.5 L72.3 108.4 L73.8 109.3 L75.3 110.2 L76.8 111.1 L78.3 111.9 L79.8 112.7 L81.3 113.6 L82.8 114.4 L84.3 115.2 L85.8 115.9 L87.4 116.7 L88.9 117.4 L90.4 118.1 L91.9 118.8 L93.4 119.5 L94.9 120.2 L96.4 120.9 L97.9 121.6 L99.4 122.2 L100.9 122.9 L102.4 123.6 L103.9 124.3 L105.5 124.9 L107.0 125.6 L108.5 126.2 L110.0 126.9 L111.5 127.6 L113.0 128.3 M187.7 155.9 L189.2 156.3 L190.7 156.7 L192.2 157.1 L193.7 157.4 L195.2 157.8 L196.7 158.2 L198.2 158.5 L199.7 158.9 L201.2 159.2 L202.7 159.6 L204.2 159.9 L205.8 160.3 L207.3 160.6 L208.8 160.9 L210.3 161.3 L211.8 161.6 L213.3 162.0 L214.8 162.3 L216.3 162.6 L217.8 163.0 L219.3 163.3 L220.8 163.6 L222.3 164.0 L223.8 164.3 L225.3 164.6 L226.8 164.9 L228.3 165.2 L229.8 165.6 L231.3 165.9 L232.8 166.2 L234.3 166.5 L235.8 166.8 L237.3 167.1 L238.8 167.4 L240.4 167.7 L241.9 168.0 L243.4 168.3 L244.9 168.6 L246.4 168.9 L247.9 169.2 L249.4 169.5 L250.9 169.8 L252.4 170.0 L253.9 170.3 L255.4 170.6 L256.9 170.9 L258.4 171.1 L259.9 171.4 L261.4 171.7 L262.9 171.9 L264.4 172.2 L265.9 172.5 L267.4 172.7 L268.9 173.0 L270.4 173.2 L271.9 173.5 L273.4 173.7 L274.9 174.0 L276.5 174.2 L278.0 174.5 L279.5 174.7 L281.0 175.0 L282.5 175.2 L284.0 175.4 L285.5 175.7 L287.0 175.9 L288.5 176.1 L290.0 176.4 L291.5 176.6 L293.0 176.8 L294.5 177.1 L296.0 177.3 L297.5 177.5 L299.0 177.8 L300.5 178.0 L302.0 178.2 L303.5 178.4 L305.0 178.6 L306.5 178.9 L308.0 179.1 L309.5 179.3 L311.1 179.5 L312.6 179.7 L314.1 179.9 L315.6 180.1 L317.1 180.3 L318.6 180.6 L320.1 180.8 L321.6 181.0 L323.1 181.2 L324.6 181.4 L326.1 181.6 L327.6 181.8 L329.1 182.0 L330.6 182.2 L332.1 182.4 L333.6 182.6 L335.1 182.8 L336.6 183.0 L338.1 183.2 L339.6 183.4 L341.1 183.6 L342.6 183.8 L344.1 184.0 L345.7 184.2 L347.2 184.4 L348.7 184.6 L350.2 184.8 L351.7 185.0 L353.2 185.2 L354.7 185.4 L356.2 185.6 L357.7 185.8 L359.2 186.0 L360.7 186.2 L362.2 186.4" stroke="#d894e2" stroke-width="0.72" stroke-dasharray="1.2 3.8"/>
<path d="M27.0 80.0 L28.5 81.4 L30.0 82.8 L31.5 84.1 L33.0 85.5 L34.6 86.8 L36.1 88.1 L37.6 89.4 L39.1 90.7 L40.6 92.0 L42.1 93.3 L43.6 94.6 L45.1 95.9 L46.6 97.1 L48.2 98.4 L49.7 99.6 L51.2 100.8 L52.7 102.0 L54.2 103.1 L55.7 104.2 L57.2 105.2 L58.7 106.2 L60.2 107.2 L61.8 108.3 L63.3 109.3 L64.8 110.4 L66.3 111.5 L67.8 112.6 L69.3 113.6 L70.8 114.7 L72.3 115.7 L73.9 116.6 L75.4 117.6 L76.9 118.5 L78.4 119.4 L79.9 120.2 L81.4 121.1 L82.9 121.9 L84.4 122.8 L85.9 123.6 L87.5 124.4 L89.0 125.2 L90.5 126.0 L92.0 126.8 L93.5 127.6 M176.0 162.6 L177.5 163.1 L179.0 163.5 L180.5 164.0 L182.0 164.4 L183.5 164.8 L185.0 165.2 L186.5 165.6 L188.0 166.0 L189.5 166.4 L191.0 166.8 L192.5 167.3 L194.0 167.7 L195.5 168.1 L197.0 168.5 L198.5 168.9 L200.0 169.3 L201.5 169.7 L203.0 170.2 L204.5 170.6 L206.0 171.0 L207.5 171.4 L209.0 171.8 L210.5 172.2 L212.0 172.6 L213.5 173.0 L215.0 173.4 L216.5 173.8 L218.0 174.2 L219.5 174.6 L221.0 175.0 L222.6 175.4 L224.1 175.8 L225.6 176.2 L227.1 176.5 L228.6 176.9 L230.1 177.3 L231.6 177.6 L233.1 178.0 L234.6 178.4 L236.1 178.7 L237.6 179.1 L239.1 179.4 L240.6 179.8 L242.1 180.1 L243.6 180.4 L245.1 180.8 L246.6 181.1 L248.1 181.4 L249.6 181.7 L251.1 182.0 L252.6 182.3 L254.1 182.6 L255.6 182.9 L257.1 183.2 L258.6 183.5 L260.1 183.8 L261.6 184.1 L263.1 184.4 L264.6 184.7 L266.1 185.0 L267.6 185.3 L269.1 185.6 L270.6 185.9 L272.1 186.1 L273.6 186.4 L275.1 186.7 L276.6 187.0 L278.1 187.2 L279.6 187.5 L281.1 187.7 L282.6 188.0 L284.1 188.2 L285.6 188.5 L287.1 188.7 L288.6 189.0 L290.1 189.2 L291.6 189.4 L293.1 189.7 L294.6 189.9 L296.1 190.1 L297.6 190.3 L299.1 190.5 L300.6 190.7 L302.1 190.9 L303.6 191.1 L305.1 191.3 L306.6 191.5 L308.1 191.7 L309.6 191.9 L311.1 192.1 L312.6 192.3 L314.1 192.5 L315.6 192.6 L317.2 192.8 L318.7 193.0 L320.2 193.2 L321.7 193.4 L323.2 193.5 L324.7 193.7 L326.2 193.9 L327.7 194.0 L329.2 194.2 L330.7 194.4 L332.2 194.6 L333.7 194.7 L335.2 194.9 L336.7 195.1 L338.2 195.2 L339.7 195.4 L341.2 195.5 L342.7 195.7 L344.2 195.8 L345.7 196.0 L347.2 196.2 L348.7 196.3 L350.2 196.5 L351.7 196.6 L353.2 196.8 L354.7 196.9 L356.2 197.0 L357.7 197.2 L359.2 197.3 L360.7 197.5 L362.2 197.6" stroke="#ff9c9c" stroke-width="0.72" stroke-dasharray="1.2 3.8"/>
<path d="M27.0 98.5 L28.5 99.8 L30.0 101.1 L31.4 102.4 L32.9 103.7 L34.4 105.0 L35.9 106.3 L37.4 107.6 L38.8 108.9 L40.3 110.2 L41.8 111.4 L43.3 112.6 L44.8 113.8 L46.2 115.0 L47.7 116.2 L49.2 117.4 L50.7 118.5 L52.1 119.7 L53.6 120.8 L55.1 121.9 L56.6 123.1 L58.1 124.2 L59.5 125.4 L61.0 126.5 L62.5 127.6 M127.5 165.6 L129.0 166.3 L130.5 167.0 L132.0 167.7 L133.5 168.3 L135.0 169.0 L136.5 169.7 L138.0 170.3 L139.5 171.0 L141.0 171.6 L142.5 172.3 L144.0 172.9 L145.6 173.6 L147.1 174.2 L148.6 174.8 L150.1 175.5 L151.6 176.1 L153.1 176.7 L154.6 177.3 L156.1 177.9 L157.6 178.6 L159.1 179.2 L160.6 179.8 L162.1 180.4 L163.6 181.0 L165.1 181.6 L166.6 182.2 L168.1 182.8 L169.6 183.3 L171.1 183.9 L172.6 184.5 L174.1 185.0 L175.6 185.6 L177.1 186.1 L178.7 186.6 L180.2 187.2 L181.7 187.7 L183.2 188.2 L184.7 188.7 L186.2 189.3 L187.7 189.8 L189.2 190.3 L190.7 190.8 L192.2 191.4 L193.7 191.9 L195.2 192.5 L196.7 193.0 L198.2 193.6 L199.7 194.1 L201.2 194.7 L202.7 195.2 L204.2 195.7 L205.7 196.3 L207.2 196.7 L208.7 197.2 L210.2 197.7 L211.8 198.1 L213.3 198.5 L214.8 198.9 L216.3 199.3 L217.8 199.7 L219.3 200.1 L220.8 200.5 L222.3 200.9 L223.8 201.2 L225.3 201.6 L226.8 202.0 L228.3 202.4 L229.8 202.8 L231.3 203.1 L232.8 203.5 L234.3 203.9 L235.8 204.2 L237.3 204.6 L238.8 205.0 L240.3 205.4 L241.8 205.7 L243.3 206.1 L244.8 206.4 L246.4 206.8 L247.9 207.2 L249.4 207.5 L250.9 207.9 L252.4 208.2 L253.9 208.6 L255.4 208.9 L256.9 209.3 L258.4 209.7 L259.9 210.0 L261.4 210.3 L262.9 210.7 L264.4 211.0 L265.9 211.4 L267.4 211.7 L268.9 212.1 L270.4 212.4 L271.9 212.8 L273.4 213.1 L274.9 213.4 L276.4 213.8 L277.9 214.1 L279.5 214.4 L281.0 214.8 L282.5 215.1 L284.0 215.4 L285.5 215.7 L287.0 216.1 L288.5 216.4 L290.0 216.7 L291.5 217.0 L293.0 217.4 L294.5 217.7 L296.0 218.0 L297.5 218.3 L299.0 218.6 L300.5 218.9 L302.0 219.3 L303.5 219.6 L305.0 219.9 L306.5 220.2 L308.0 220.5 L309.5 220.8 L311.0 221.1 L312.6 221.4 L314.1 221.7 L315.6 222.0 L317.1 222.3 L318.6 222.6 L320.1 223.0 L321.6 223.3 L323.1 223.5 L324.6 223.8 L326.1 224.1 L327.6 224.4 L329.1 224.7 L330.6 225.0 L332.1 225.3 L333.6 225.6 L335.1 225.9 L336.6 226.2 L338.1 226.5 L339.6 226.8 L341.1 227.0 L342.6 227.3 L344.1 227.6 L345.7 227.9 L347.2 228.2 L348.7 228.5 L350.2 228.7 L351.7 229.0 L353.2 229.3 L354.7 229.6 L356.2 229.8 L357.7 230.1 L359.2 230.4 L360.7 230.6 L362.2 230.9" stroke="#9c9cff" stroke-width="0.72" stroke-dasharray="1.2 3.8"/>
<path d="M263.0 127.6 L264.5 127.8 L266.0 128.0 L267.5 128.2 L269.0 128.4 L270.5 128.6 L272.0 128.8 L273.5 129.0 L275.0 129.2 L276.5 129.4 L278.0 129.6 L279.5 129.8 L281.0 129.9 L282.5 130.1 L284.0 130.3 L285.5 130.5 L287.0 130.7 L288.6 130.8 L290.1 131.0 L291.6 131.2 L293.1 131.4 L294.6 131.5 L296.1 131.7 L297.6 131.9 L299.1 132.1 L300.6 132.2 L302.1 132.4 L303.6 132.6 L305.1 132.8 L306.6 132.9 L308.1 133.1 L309.6 133.3 L311.1 133.4 L312.6 133.6 L314.1 133.7 L315.6 133.9 L317.1 134.0 L318.6 134.2 L320.1 134.3 L321.6 134.4 L323.1 134.6 L324.6 134.7 L326.1 134.9 L327.6 135.0 L329.1 135.1 L330.6 135.3 L332.1 135.4 L333.6 135.5 L335.1 135.6 L336.6 135.8 L338.2 135.9 L339.7 136.0 L341.2 136.1 L342.7 136.2 L344.2 136.4 L345.7 136.5 L347.2 136.6 L348.7 136.7 L350.2 136.8 L351.7 136.9 L353.2 137.0 L354.7 137.1 L356.2 137.2 L357.7 137.3 L359.2 137.4 L360.7 137.5 L362.2 137.6" stroke="#ff8000" stroke-width="2.0" stroke-dasharray="5.8 2.5"/>
<path d="M156.9 127.6 L158.4 128.1 L159.9 128.5 L161.4 129.0 L162.9 129.4 L164.4 129.8 L165.9 130.3 L167.4 130.7 L168.9 131.1 L170.4 131.5 L171.9 131.9 L173.4 132.3 L174.9 132.7 L176.4 133.0 L177.9 133.4 L179.4 133.8 L180.9 134.1 L182.4 134.5 L183.9 134.9 L185.4 135.2 L186.9 135.5 L188.4 135.9 L189.9 136.2 L191.4 136.6 L192.9 136.9 L194.4 137.3 L195.9 137.6 L197.4 137.9 L198.9 138.3 L200.4 138.6 L201.9 139.0 L203.4 139.3 L204.9 139.6 L206.4 140.0 L207.9 140.3 L209.3 140.6 L210.8 140.9 L212.3 141.2 L213.8 141.5 L215.3 141.8 L216.8 142.1 L218.3 142.3 L219.8 142.6 L221.3 142.8 L222.8 143.1 L224.3 143.3 L225.8 143.6 L227.3 143.8 L228.8 144.1 L230.3 144.3 L231.8 144.5 L233.3 144.7 L234.8 145.0 L236.3 145.2 L237.8 145.4 L239.3 145.6 L240.8 145.8 L242.3 146.0 L243.8 146.3 L245.3 146.5 L246.8 146.7 L248.3 146.9 L249.8 147.1 L251.3 147.3 L252.8 147.5 L254.3 147.7 L255.8 147.9 L257.3 148.1 L258.8 148.2 L260.3 148.4 L261.8 148.6 L263.3 148.7 L264.8 148.9 L266.3 149.0 L267.8 149.2 L269.3 149.3 L270.8 149.4 L272.3 149.6 L273.8 149.7 L275.3 149.8 L276.8 149.9 L278.3 150.0 L279.8 150.2 L281.3 150.3 L282.8 150.4 L284.3 150.5 L285.8 150.6 L287.3 150.7 L288.8 150.8 L290.3 150.9 L291.8 151.0 L293.3 151.1 L294.8 151.2 L296.3 151.3 L297.8 151.4 L299.3 151.5 L300.8 151.5 L302.3 151.6 L303.8 151.7 L305.3 151.8 L306.8 151.9 L308.3 152.0 L309.8 152.1 L311.2 152.1 L312.7 152.2 L314.2 152.3 L315.7 152.4 L317.2 152.4 L318.7 152.5 L320.2 152.6 L321.7 152.7 L323.2 152.7 L324.7 152.8 L326.2 152.8 L327.7 152.9 L329.2 153.0 L330.7 153.0 L332.2 153.1 L333.7 153.1 L335.2 153.2 L336.7 153.3 L338.2 153.3 L339.7 153.4 L341.2 153.4 L342.7 153.5 L344.2 153.5 L345.7 153.6 L347.2 153.6 L348.7 153.7 L350.2 153.7 L351.7 153.7 L353.2 153.8 L354.7 153.8 L356.2 153.9 L357.7 153.9 L359.2 153.9 L360.7 154.0 L362.2 154.0" stroke="#00a600" stroke-width="2.0" stroke-dasharray="5.8 2.5"/>
<path d="M150.3 127.6 L151.8 128.2 L153.3 128.8 L154.8 129.4 L156.3 130.0 L157.8 130.6 L159.3 131.1 L160.8 131.7 L162.3 132.2 L163.8 132.8 L165.3 133.3 L166.8 133.8 L168.3 134.4 L169.8 134.9 L171.3 135.4 L172.8 135.8 L174.3 136.3 L175.8 136.8 L177.4 137.3 L178.9 137.8 L180.4 138.3 L181.9 138.8 L183.4 139.2 L184.9 139.7 L186.4 140.2 L187.9 140.7 L189.4 141.1 L190.9 141.6 L192.4 142.1 L193.9 142.6 L195.4 143.1 L196.9 143.5 L198.4 144.0 L199.9 144.5 L201.4 145.0 L202.9 145.5 L204.4 146.0 L205.9 146.5 L207.4 146.9 L208.9 147.4 L210.4 147.9 L211.9 148.3 L213.4 148.8 L214.9 149.3 L216.4 149.7 L217.9 150.1 L219.4 150.6 L220.9 151.0 L222.4 151.5 L223.9 151.9 L225.4 152.3 L226.9 152.7 L228.4 153.1 L230.0 153.6 L231.5 154.0 L233.0 154.4 L234.5 154.8 L236.0 155.2 L237.5 155.6 L239.0 156.0 L240.5 156.5 L242.0 156.9 L243.5 157.3 L245.0 157.7 L246.5 158.2 L248.0 158.6 L249.5 159.0 L251.0 159.4 L252.5 159.8 L254.0 160.2 L255.5 160.6 L257.0 160.9 L258.5 161.3 L260.0 161.6 L261.5 162.0 L263.0 162.3 L264.5 162.6 L266.0 163.0 L267.5 163.3 L269.0 163.6 L270.5 163.9 L272.0 164.2 L273.5 164.5 L275.0 164.8 L276.5 165.1 L278.0 165.4 L279.5 165.7 L281.0 166.0 L282.5 166.3 L284.1 166.6 L285.6 166.9 L287.1 167.1 L288.6 167.4 L290.1 167.7 L291.6 168.0 L293.1 168.3 L294.6 168.6 L296.1 168.8 L297.6 169.1 L299.1 169.4 L300.6 169.7 L302.1 169.9 L303.6 170.2 L305.1 170.5 L306.6 170.8 L308.1 171.0 L309.6 171.3 L311.1 171.5 L312.6 171.8 L314.1 172.1 L315.6 172.3 L317.1 172.6 L318.6 172.8 L320.1 173.1 L321.6 173.3 L323.1 173.6 L324.6 173.8 L326.1 174.1 L327.6 174.3 L329.1 174.5 L330.6 174.8 L332.1 175.0 L333.6 175.2 L335.1 175.4 L336.7 175.7 L338.2 175.9 L339.7 176.1 L341.2 176.3 L342.7 176.5 L344.2 176.7 L345.7 176.9 L347.2 177.1 L348.7 177.4 L350.2 177.6 L351.7 177.8 L353.2 178.0 L354.7 178.2 L356.2 178.3 L357.7 178.5 L359.2 178.7 L360.7 178.9 L362.2 179.1" stroke="#9a00b3" stroke-width="2.0" stroke-dasharray="5.8 2.5"/>
<path d="M131.7 127.6 L133.2 128.3 L134.7 128.9 L136.2 129.6 L137.7 130.2 L139.2 130.9 L140.7 131.5 L142.2 132.1 L143.7 132.8 L145.2 133.4 L146.7 134.1 L148.2 134.7 L149.7 135.3 L151.2 136.0 L152.7 136.6 L154.2 137.2 L155.6 137.9 L157.1 138.5 L158.6 139.1 L160.1 139.7 L161.6 140.3 L163.1 140.8 L164.6 141.4 L166.1 142.0 L167.6 142.5 L169.1 143.1 L170.6 143.7 L172.1 144.3 L173.6 144.8 L175.1 145.4 L176.6 146.1 L178.1 146.7 L179.6 147.3 L181.1 147.9 L182.6 148.5 L184.1 149.2 L185.6 149.8 L187.1 150.4 L188.6 151.0 L190.1 151.5 L191.6 152.1 L193.1 152.6 L194.6 153.1 L196.1 153.6 L197.6 154.2 L199.1 154.7 L200.6 155.1 L202.0 155.6 L203.5 156.1 L205.0 156.6 L206.5 157.1 L208.0 157.6 L209.5 158.1 L211.0 158.6 L212.5 159.1 L214.0 159.5 L215.5 160.0 L217.0 160.4 L218.5 160.9 L220.0 161.3 L221.5 161.7 L223.0 162.1 L224.5 162.5 L226.0 162.9 L227.5 163.3 L229.0 163.6 L230.5 164.0 L232.0 164.4 L233.5 164.7 L235.0 165.1 L236.5 165.4 L238.0 165.8 L239.5 166.1 L241.0 166.5 L242.5 166.8 L244.0 167.2 L245.5 167.5 L246.9 167.8 L248.4 168.2 L249.9 168.5 L251.4 168.9 L252.9 169.2 L254.4 169.5 L255.9 169.9 L257.4 170.2 L258.9 170.6 L260.4 170.9 L261.9 171.3 L263.4 171.6 L264.9 172.0 L266.4 172.4 L267.9 172.7 L269.4 173.1 L270.9 173.4 L272.4 173.8 L273.9 174.1 L275.4 174.5 L276.9 174.8 L278.4 175.1 L279.9 175.5 L281.4 175.8 L282.9 176.1 L284.4 176.5 L285.9 176.8 L287.4 177.1 L288.9 177.4 L290.4 177.7 L291.9 178.0 L293.3 178.3 L294.8 178.6 L296.3 178.9 L297.8 179.2 L299.3 179.5 L300.8 179.8 L302.3 180.0 L303.8 180.3 L305.3 180.6 L306.8 180.8 L308.3 181.1 L309.8 181.4 L311.3 181.6 L312.8 181.9 L314.3 182.1 L315.8 182.4 L317.3 182.6 L318.8 182.9 L320.3 183.1 L321.8 183.4 L323.3 183.6 L324.8 183.8 L326.3 184.1 L327.8 184.3 L329.3 184.5 L330.8 184.8 L332.3 185.0 L333.8 185.2 L335.3 185.4 L336.8 185.7 L338.3 185.9 L339.7 186.1 L341.2 186.3 L342.7 186.5 L344.2 186.7 L345.7 187.0 L347.2 187.2 L348.7 187.4 L350.2 187.6 L351.7 187.8 L353.2 188.0 L354.7 188.2 L356.2 188.4 L357.7 188.5 L359.2 188.7 L360.7 188.9 L362.2 189.1" stroke="#ff0000" stroke-width="2.0" stroke-dasharray="5.8 2.5"/>
<path d="M97.5 127.5 L99.0 128.5 L100.5 129.4 L102.0 130.3 L103.5 131.2 L105.0 132.1 L106.5 133.0 L108.0 133.9 L109.5 134.8 L111.0 135.7 L112.5 136.6 L114.0 137.4 L115.5 138.3 L117.1 139.1 L118.6 140.0 L120.1 140.8 L121.6 141.7 L123.1 142.5 L124.6 143.3 L126.1 144.2 L127.6 145.0 L129.1 145.9 L130.6 146.7 L132.1 147.5 L133.6 148.3 L135.1 149.1 L136.6 149.9 L138.1 150.7 L139.6 151.4 L141.1 152.2 L142.6 152.9 L144.1 153.7 L145.6 154.4 L147.1 155.1 L148.6 155.9 L150.1 156.6 L151.6 157.3 L153.1 158.0 L154.6 158.7 L156.2 159.4 L157.7 160.0 L159.2 160.7 L160.7 161.4 L162.2 162.1 L163.7 162.7 L165.2 163.4 L166.7 164.0 L168.2 164.7 L169.7 165.3 L171.2 166.0 L172.7 166.6 L174.2 167.2 L175.7 167.8 L177.2 168.4 L178.7 169.0 L180.2 169.6 L181.7 170.2 L183.2 170.8 L184.7 171.4 L186.2 172.0 L187.7 172.6 L189.2 173.2 L190.7 173.7 L192.2 174.3 L193.7 174.9 L195.3 175.5 L196.8 176.1 L198.3 176.6 L199.8 177.2 L201.3 177.8 L202.8 178.3 L204.3 178.9 L205.8 179.5 L207.3 180.0 L208.8 180.5 L210.3 181.1 L211.8 181.6 L213.3 182.1 L214.8 182.6 L216.3 183.1 L217.8 183.6 L219.3 184.1 L220.8 184.6 L222.3 185.1 L223.8 185.5 L225.3 186.0 L226.8 186.5 L228.3 186.9 L229.8 187.4 L231.3 187.8 L232.9 188.2 L234.4 188.7 L235.9 189.1 L237.4 189.5 L238.9 189.9 L240.4 190.4 L241.9 190.8 L243.4 191.2 L244.9 191.6 L246.4 192.0 L247.9 192.4 L249.4 192.8 L250.9 193.2 L252.4 193.6 L253.9 194.0 L255.4 194.4 L256.9 194.8 L258.4 195.2 L259.9 195.6 L261.4 196.1 L262.9 196.5 L264.4 196.9 L265.9 197.3 L267.4 197.7 L268.9 198.0 L270.4 198.4 L272.0 198.8 L273.5 199.2 L275.0 199.6 L276.5 200.0 L278.0 200.4 L279.5 200.8 L281.0 201.1 L282.5 201.5 L284.0 201.9 L285.5 202.3 L287.0 202.7 L288.5 203.0 L290.0 203.4 L291.5 203.8 L293.0 204.2 L294.5 204.6 L296.0 204.9 L297.5 205.3 L299.0 205.7 L300.5 206.1 L302.0 206.4 L303.5 206.8 L305.0 207.2 L306.5 207.5 L308.0 207.9 L309.5 208.3 L311.1 208.6 L312.6 209.0 L314.1 209.3 L315.6 209.7 L317.1 210.0 L318.6 210.4 L320.1 210.7 L321.6 211.1 L323.1 211.4 L324.6 211.7 L326.1 212.1 L327.6 212.4 L329.1 212.7" stroke="#0000ff" stroke-width="2.0" stroke-dasharray="5.8 2.5"/>
<path d="M245.5 127.5 L247.0 127.7 L248.5 127.9 L250.0 128.2 L251.5 128.4 L253.0 128.7 L254.5 128.9 L256.0 129.2 L257.5 129.4 L259.0 129.7 L260.5 129.9 L262.0 130.1 L263.5 130.3 L264.9 130.5 L266.4 130.7 L267.9 130.9 L269.4 131.1 L270.9 131.3 L272.4 131.4 L273.9 131.6 L275.4 131.8 L276.9 131.9 L278.4 132.1 L279.9 132.2 L281.4 132.4 L282.9 132.5 L284.4 132.7 L285.9 132.9 L287.4 133.0 L288.9 133.2 L290.4 133.3 L291.9 133.5 L293.4 133.7 L294.9 133.8 L296.4 134.0 L297.9 134.2 L299.4 134.4 L300.9 134.5 L302.4 134.7 L303.9 134.9 L305.3 135.0 L306.8 135.2 L308.3 135.4 L309.8 135.5 L311.3 135.7 L312.8 135.8 L314.3 136.0 L315.8 136.1 L317.3 136.3 L318.8 136.4 L320.3 136.5 L321.8 136.7 L323.3 136.8 L324.8 136.9 L326.3 137.0 L327.8 137.2 L329.3 137.3 L330.8 137.4 L332.3 137.5 L333.8 137.6 L335.3 137.8 L336.8 137.9 L338.3 138.0 L339.8 138.1 L341.3 138.2 L342.8 138.3 L344.2 138.4 L345.7 138.5 L347.2 138.6 L348.7 138.7 L350.2 138.8 L351.7 138.9 L353.2 139.0 L354.7 139.1 L356.2 139.2 L357.7 139.3 L359.2 139.3 L360.7 139.4 L362.2 139.5" stroke="#ff8000" stroke-width="2.0"/>
<path d="M126.0 127.5 L127.5 128.0 L129.0 128.6 L130.5 129.1 L132.0 129.6 L133.5 130.1 L135.0 130.6 L136.5 131.1 L138.0 131.6 L139.5 132.1 L141.0 132.5 L142.5 133.0 L144.1 133.5 L145.6 133.9 L147.1 134.4 L148.6 134.8 L150.1 135.2 L151.6 135.6 L153.1 136.0 L154.6 136.4 L156.1 136.7 L157.6 137.1 L159.1 137.4 L160.6 137.7 L162.1 138.1 L163.6 138.4 L165.1 138.7 L166.6 139.1 L168.1 139.4 L169.6 139.8 L171.1 140.1 L172.6 140.5 L174.1 140.8 L175.6 141.1 L177.2 141.4 L178.7 141.7 L180.2 142.0 L181.7 142.3 L183.2 142.6 L184.7 142.9 L186.2 143.2 L187.7 143.4 L189.2 143.7 L190.7 144.0 L192.2 144.3 L193.7 144.6 L195.2 144.9 L196.7 145.2 L198.2 145.5 L199.7 145.8 L201.2 146.1 L202.7 146.4 L204.2 146.7 L205.7 147.0 L207.2 147.2 L208.7 147.5 L210.2 147.8 L211.8 148.0 L213.3 148.3 L214.8 148.5 L216.3 148.7 L217.8 148.9 L219.3 149.1 L220.8 149.3 L222.3 149.5 L223.8 149.7 L225.3 149.9 L226.8 150.1 L228.3 150.3 L229.8 150.4 L231.3 150.6 L232.8 150.8 L234.3 150.9 L235.8 151.1 L237.3 151.2 L238.8 151.3 L240.3 151.5 L241.8 151.6 L243.3 151.7 L244.9 151.9 L246.4 152.0 L247.9 152.1 L249.4 152.2 L250.9 152.4 L252.4 152.5 L253.9 152.6 L255.4 152.7 L256.9 152.8 L258.4 152.9 L259.9 153.0 L261.4 153.1 L262.9 153.2 L264.4 153.3 L265.9 153.4 L267.4 153.4 L268.9 153.5 L270.4 153.6 L271.9 153.6 L273.4 153.7 L274.9 153.7 L276.4 153.8 L278.0 153.8 L279.5 153.9 L281.0 153.9 L282.5 154.0 L284.0 154.0 L285.5 154.0 L287.0 154.1 L288.5 154.1 L290.0 154.1 L291.5 154.2 L293.0 154.2 L294.5 154.2 L296.0 154.3 L297.5 154.3 L299.0 154.3 L300.5 154.4 L302.0 154.4 L303.5 154.4 L305.0 154.4 L306.5 154.5 L308.0 154.5 L309.5 154.5 L311.0 154.6 L312.6 154.6 L314.1 154.6 L315.6 154.6 L317.1 154.6 L318.6 154.7 L320.1 154.7 L321.6 154.7 L323.1 154.7 L324.6 154.7 L326.1 154.8 L327.6 154.8 L329.1 154.8 L330.6 154.8 L332.1 154.8 L333.6 154.8 L335.1 154.8 L336.6 154.9 L338.1 154.9 L339.6 154.9 L341.1 154.9 L342.6 154.9 L344.1 154.9 L345.7 154.9 L347.2 154.9 L348.7 154.9 L350.2 155.0 L351.7 155.0 L353.2 155.0 L354.7 155.0 L356.2 155.0 L357.7 155.0 L359.2 155.0 L360.7 155.0 L362.2 155.0" stroke="#00a600" stroke-width="2.0"/>
<path d="M127.0 127.5 L128.5 128.2 L130.0 128.9 L131.5 129.6 L133.0 130.3 L134.5 131.0 L136.0 131.7 L137.5 132.4 L139.0 133.1 L140.5 133.7 L142.0 134.4 L143.5 135.0 L145.0 135.6 L146.5 136.2 L148.0 136.8 L149.5 137.4 L151.0 138.0 L152.5 138.5 L154.0 139.1 L155.5 139.6 L157.0 140.1 L158.5 140.6 L160.0 141.1 L161.5 141.6 L163.0 142.1 L164.5 142.6 L166.0 143.1 L167.5 143.7 L169.0 144.2 L170.5 144.7 L172.0 145.3 L173.5 145.8 L175.0 146.3 L176.5 146.8 L178.0 147.3 L179.5 147.8 L181.0 148.3 L182.5 148.8 L184.0 149.3 L185.5 149.7 L187.0 150.2 L188.5 150.7 L190.0 151.1 L191.5 151.6 L193.0 152.1 L194.5 152.5 L196.0 153.0 L197.5 153.4 L199.0 153.9 L200.5 154.3 L202.0 154.8 L203.5 155.2 L205.0 155.6 L206.5 156.1 L208.0 156.5 L209.5 156.9 L211.0 157.3 L212.5 157.7 L214.0 158.1 L215.5 158.4 L217.0 158.8 L218.5 159.2 L220.0 159.5 L221.5 159.9 L223.0 160.3 L224.5 160.6 L226.0 161.0 L227.5 161.3 L228.9 161.7 L230.4 162.1 L231.9 162.4 L233.4 162.8 L234.9 163.1 L236.4 163.5 L237.9 163.9 L239.4 164.2 L240.9 164.6 L242.4 164.9 L243.9 165.3 L245.4 165.6 L246.9 166.0 L248.4 166.3 L249.9 166.6 L251.4 167.0 L252.9 167.3 L254.4 167.6 L255.9 167.9 L257.4 168.2 L258.9 168.5 L260.4 168.8 L261.9 169.1 L263.4 169.4 L264.9 169.7 L266.4 170.0 L267.9 170.3 L269.4 170.5 L270.9 170.8 L272.4 171.1 L273.9 171.4 L275.4 171.6 L276.9 171.9 L278.4 172.2 L279.9 172.4 L281.4 172.7 L282.9 172.9 L284.4 173.2 L285.9 173.4 L287.4 173.7 L288.9 173.9 L290.4 174.2 L291.9 174.4 L293.4 174.6 L294.9 174.8 L296.4 175.0 L297.9 175.3 L299.4 175.5 L300.9 175.7 L302.4 175.9 L303.9 176.1 L305.4 176.3 L306.9 176.5 L308.4 176.7 L309.9 176.9 L311.4 177.0 L312.9 177.2 L314.4 177.4 L315.9 177.6 L317.4 177.8 L318.9 178.0 L320.4 178.2 L321.9 178.4 L323.4 178.5 L324.9 178.7 L326.4 178.9 L327.9 179.1 L329.4 179.3 L330.9 179.5" stroke="#9a00b3" stroke-width="2.0"/>
<path d="M107.5 127.4 L109.0 128.1 L110.5 128.8 L112.0 129.5 L113.5 130.2 L115.0 130.8 L116.5 131.5 L118.0 132.2 L119.5 132.8 L121.0 133.5 L122.5 134.1 L124.0 134.8 L125.5 135.4 L127.0 136.1 L128.5 136.7 L130.0 137.3 L131.5 138.0 L133.0 138.6 L134.5 139.2 L136.0 139.8 L137.5 140.4 L139.0 141.1 L140.5 141.7 L142.0 142.3 L143.5 142.9 L145.0 143.5 L146.5 144.2 L148.0 144.9 L149.5 145.6 L151.0 146.3 L152.5 147.0 L154.0 147.7 L155.5 148.3 L157.0 149.0 L158.5 149.6 L160.0 150.3 L161.5 150.9 L163.0 151.5 L164.5 152.1 L166.0 152.7 L167.5 153.2 L169.0 153.8 L170.5 154.4 L172.0 154.9 L173.5 155.5 L175.0 156.0 L176.5 156.6 L178.0 157.1 L179.5 157.6 L181.0 158.1 L182.5 158.7 L184.0 159.2 L185.5 159.7 L187.0 160.2 L188.5 160.6 L190.0 161.1 L191.5 161.6 L193.0 162.1 L194.5 162.6 L196.0 163.1 L197.5 163.5 L199.0 164.0 L200.5 164.5 L202.0 164.9 L203.5 165.4 L205.0 165.8 L206.5 166.3 L208.0 166.7 L209.5 167.1 L211.0 167.5 L212.5 167.9 L214.0 168.3 L215.5 168.7 L217.0 169.1 L218.5 169.5 L220.0 169.9 L221.5 170.2 L223.0 170.6 L224.5 170.9 L226.0 171.3 L227.5 171.6 L229.0 172.0 L230.5 172.3 L232.0 172.6 L233.5 173.0 L235.0 173.3 L236.5 173.6 L238.0 173.9 L239.5 174.2 L241.0 174.5 L242.5 174.8 L244.0 175.1 L245.5 175.4 L247.0 175.7 L248.5 176.0 L250.0 176.3 L251.5 176.6 L253.0 176.9 L254.5 177.2 L256.0 177.5 L257.5 177.8 L259.0 178.1 L260.5 178.4 L262.0 178.8 L263.5 179.1 L265.0 179.4 L266.5 179.7 L268.0 180.0 L269.5 180.4 L271.0 180.7 L272.5 181.0 L274.0 181.3 L275.5 181.6 L277.0 181.9 L278.5 182.2 L280.0 182.5 L281.5 182.8 L283.0 183.1 L284.5 183.4 L286.0 183.7 L287.5 183.9 L289.0 184.2" stroke="#ff0000" stroke-width="2.0"/>
<path d="M74.5 127.3 L76.0 128.4 L77.5 129.4 L79.0 130.5 L80.5 131.6 L82.0 132.6 L83.5 133.7 L85.0 134.7 L86.5 135.7 L88.0 136.8 L89.5 137.8 L91.0 138.7 L92.5 139.7 L94.0 140.7 L95.5 141.6 L97.0 142.5 L98.5 143.4 L100.0 144.3 L101.5 145.1 L103.0 146.0 L104.5 146.8 L106.0 147.7 L107.5 148.5 L109.0 149.3 L110.5 150.1 L112.0 150.9 L113.5 151.7 L115.0 152.5 L116.5 153.3 L118.0 154.0 L119.5 154.8 L121.0 155.6 L122.5 156.3 L124.0 157.1 L125.5 157.8 L127.0 158.6 L128.5 159.3 L130.0 160.0 L131.5 160.8 L133.0 161.5 L134.5 162.2 L136.0 162.9 L137.5 163.7 L139.1 164.4 L140.6 165.1 L142.1 165.8 L143.6 166.5 L145.1 167.2 L146.6 167.9 L148.1 168.6 L149.6 169.3 L151.1 170.0 L152.6 170.6 L154.1 171.3 L155.6 172.0 L157.1 172.6 L158.6 173.3 L160.1 173.9 L161.6 174.6 L163.1 175.2 L164.6 175.8 L166.1 176.5 L167.6 177.1 L169.1 177.7 L170.6 178.3 L172.1 178.9 L173.6 179.4 L175.1 180.0 L176.6 180.5 L178.1 181.1 L179.6 181.6 L181.1 182.2 L182.6 182.7 L184.1 183.2 L185.6 183.7 L187.1 184.2 L188.6 184.7 L190.1 185.2 L191.6 185.7 L193.1 186.2 L194.6 186.7 L196.1 187.2 L197.6 187.7 L199.1 188.2 L200.6 188.6 L202.1 189.1 L203.6 189.6" stroke="#0000ff" stroke-width="2.0"/>
<path d="M225.5 128.0 L227.0 128.3 L228.5 128.5 L230.0 128.8 L231.5 129.1 L233.0 129.4 L234.5 129.7 L236.0 130.0 L237.5 130.2 L239.0 130.5 L240.5 130.7 L242.0 130.9 L243.5 131.1 L245.0 131.3 L246.5 131.4 L248.0 131.6 L249.5 131.8 L251.0 131.9 L252.5 132.1 L254.0 132.2 L255.5 132.4 L257.0 132.5 L258.5 132.7 L260.1 132.8 L261.6 132.9 L263.1 133.1 L264.6 133.2 L266.1 133.3 L267.6 133.4 L269.1 133.5 L270.6 133.7 L272.1 133.8 L273.6 133.9 L275.1 134.0 L276.6 134.1 L278.1 134.2 L279.6 134.3 L281.1 134.4 L282.6 134.5 L284.1 134.5 L285.6 134.6 L287.1 134.7 L288.6 134.8 L290.1 134.9 L291.6 135.0 L293.1 135.1 L294.6 135.2 L296.1 135.3 L297.6 135.4 L299.1 135.4 L300.6 135.5 L302.1 135.6 L303.6 135.7 L305.1 135.8 L306.6 135.8 L308.1 135.9 L309.6 136.0 L311.1 136.1 L312.6 136.1 L314.1 136.2 L315.6 136.3 L317.1 136.4 L318.6 136.5 L320.1 136.6 L321.6 136.7 L323.1 136.8 L324.6 136.8 L326.1 136.9 L327.6 137.0 L329.2 137.1 L330.7 137.2 L332.2 137.3 L333.7 137.4 L335.2 137.5 L336.7 137.6 L338.2 137.8 L339.7 137.9 L341.2 138.0 L342.7 138.1 L344.2 138.2 L345.7 138.3 L347.2 138.4 L348.7 138.5 L350.2 138.6 L351.7 138.8 L353.2 138.9 L354.7 139.0 L356.2 139.1 L357.7 139.2 L359.2 139.4 L360.7 139.5 L362.2 139.6" stroke="#ff8000" stroke-width="2.0" stroke-dasharray="2.9 2.3"/>
<path d="M136.5 136.9 L138.0 137.4 L139.5 137.8 L141.0 138.3 L142.5 138.7 L144.0 139.2 L145.5 139.6 L147.0 140.0 L148.5 140.4 L150.0 140.8 L151.5 141.2 L153.1 141.5 L154.6 141.8 L156.1 142.2 L157.6 142.5 L159.1 142.8 L160.6 143.1 L162.1 143.4 L163.6 143.7 L165.1 144.0 L166.6 144.3 L168.1 144.6 L169.6 144.9 L171.1 145.2 L172.6 145.5 L174.1 145.8 L175.6 146.1 L177.1 146.4 L178.6 146.7 L180.1 147.0 L181.6 147.2 L183.1 147.5 L184.6 147.7 L186.2 148.0 L187.7 148.2 L189.2 148.4 L190.7 148.7 L192.2 148.9 L193.7 149.1 L195.2 149.3 L196.7 149.6 L198.2 149.8 L199.7 150.0 L201.2 150.2 L202.7 150.4 L204.2 150.6 L205.7 150.8 L207.2 151.0 L208.7 151.2 L210.2 151.4 L211.7 151.5 L213.2 151.7 L214.7 151.9 L216.2 152.1 L217.8 152.3 L219.3 152.4 L220.8 152.6 L222.3 152.8 L223.8 152.9 L225.3 153.1 L226.8 153.3 L228.3 153.4 L229.8 153.6 L231.3 153.7 L232.8 153.9 L234.3 154.0 L235.8 154.1 L237.3 154.3 L238.8 154.4 L240.3 154.5 L241.8 154.6 L243.3 154.8 L244.8 154.9 L246.3 155.0 L247.8 155.1 L249.3 155.2 L250.9 155.4 L252.4 155.5 L253.9 155.6 L255.4 155.7 L256.9 155.8 L258.4 155.9 L259.9 156.0 L261.4 156.0 L262.9 156.1 L264.4 156.2 L265.9 156.2 L267.4 156.3 L268.9 156.3 L270.4 156.3 L271.9 156.3 L273.4 156.4 L274.9 156.4 L276.4 156.4 L277.9 156.4 L279.4 156.4 L280.9 156.4 L282.5 156.5 L284.0 156.5 L285.5 156.5 L287.0 156.5 L288.5 156.5 L290.0 156.5 L291.5 156.5 L293.0 156.5 L294.5 156.5 L296.0 156.5 L297.5 156.5 L299.0 156.5 L300.5 156.5 L302.0 156.4 L303.5 156.4 L305.0 156.4 L306.5 156.4 L308.0 156.4 L309.5 156.3 L311.0 156.3 L312.5 156.3 L314.1 156.3 L315.6 156.2 L317.1 156.2 L318.6 156.2 L320.1 156.2 L321.6 156.1 L323.1 156.1 L324.6 156.1 L326.1 156.1 L327.6 156.0 L329.1 156.0 L330.6 156.0 L332.1 156.0 L333.6 155.9 L335.1 155.9 L336.6 155.9 L338.1 155.9 L339.6 155.9 L341.1 155.8 L342.6 155.8 L344.1 155.8 L345.6 155.8 L347.2 155.7 L348.7 155.7 L350.2 155.7 L351.7 155.7 L353.2 155.6 L354.7 155.6 L356.2 155.6 L357.7 155.6 L359.2 155.5 L360.7 155.5 L362.2 155.5" stroke="#00a600" stroke-width="2.0" stroke-dasharray="2.9 2.3"/>
<path d="M113.0 128.3 L114.5 129.0 L116.0 129.7 L117.5 130.5 L119.0 131.2 L120.5 132.0 L122.0 132.7 L123.5 133.5 L125.0 134.3 L126.4 135.0 L127.9 135.7 L129.4 136.4 L130.9 137.1 L132.4 137.8 L133.9 138.5 L135.4 139.1 L136.9 139.8 L138.4 140.4 L139.9 141.0 L141.4 141.6 L142.9 142.2 L144.4 142.8 L145.9 143.3 L147.4 143.9 L148.9 144.4 L150.3 144.9 L151.8 145.4 L153.3 145.8 L154.8 146.3 L156.3 146.7 L157.8 147.1 L159.3 147.6 L160.8 148.0 L162.3 148.4 L163.8 148.8 L165.3 149.2 L166.8 149.7 L168.3 150.1 L169.8 150.6 L171.3 151.0 L172.8 151.5 L174.3 151.9 L175.7 152.3 L177.2 152.8 L178.7 153.2 L180.2 153.7 L181.7 154.2 L183.2 154.6 L184.7 155.1 L186.2 155.5 L187.7 155.9" stroke="#9a00b3" stroke-width="2.0" stroke-dasharray="2.9 2.3"/>
<path d="M93.5 127.6 L95.0 128.4 L96.5 129.2 L98.0 130.0 L99.5 130.8 L101.0 131.6 L102.5 132.4 L104.0 133.1 L105.5 133.9 L107.0 134.7 L108.5 135.5 L110.0 136.2 L111.5 137.0 L113.0 137.8 L114.5 138.5 L116.0 139.3 L117.5 140.0 L119.0 140.7 L120.5 141.4 L122.0 142.2 L123.5 142.9 L125.0 143.6 L126.5 144.3 L128.0 144.9 L129.5 145.6 L131.0 146.3 L132.5 146.9 L134.0 147.5 L135.5 148.1 L137.0 148.7 L138.5 149.3 L140.0 149.8 L141.5 150.4 L143.0 150.9 L144.5 151.4 L146.0 151.9 L147.5 152.4 L149.0 152.9 L150.5 153.3 L152.0 153.7 L153.5 154.1 L155.0 154.6 L156.5 155.1 L158.0 155.6 L159.5 156.1 L161.0 156.7 L162.5 157.3 L164.0 157.9 L165.5 158.5 L167.0 159.2 L168.5 159.8 L170.0 160.4 L171.5 161.0 L173.0 161.6 L174.5 162.1 L176.0 162.6" stroke="#ff0000" stroke-width="2.0" stroke-dasharray="2.9 2.3"/>
<path d="M62.5 127.6 L64.0 128.7 L65.5 129.7 L67.0 130.7 L68.5 131.7 L70.1 132.6 L71.6 133.6 L73.1 134.6 L74.6 135.6 L76.1 136.6 L77.6 137.6 L79.1 138.6 L80.6 139.5 L82.2 140.5 L83.7 141.5 L85.2 142.5 L86.7 143.4 L88.2 144.4 L89.7 145.4 L91.2 146.3 L92.7 147.2 L94.2 148.1 L95.8 149.0 L97.3 149.9 L98.8 150.7 L100.3 151.5 L101.8 152.3 L103.3 153.1 L104.8 153.9 L106.3 154.7 L107.8 155.5 L109.4 156.3 L110.9 157.1 L112.4 157.9 L113.9 158.7 L115.4 159.5 L116.9 160.3 L118.4 161.1 L119.9 161.9 L121.5 162.6 L123.0 163.4 L124.5 164.1 L126.0 164.9 L127.5 165.6" stroke="#0000ff" stroke-width="2.0" stroke-dasharray="2.9 2.3"/>
<path d="M27.0 127.50 H365.2" stroke="#000" stroke-width="1.8" stroke-dasharray="5.7 2.5"/>
</g>
<g clip-path="url(#cr)" fill="none">
<path d="M484.0 57.0 L485.5 57.7 L487.0 58.4 L488.5 59.1 L490.0 59.8 L491.5 60.4 L493.0 61.1 L494.5 61.8 L496.0 62.5 L497.5 63.2 L499.0 63.8 L500.5 64.5 L502.0 65.2 L503.5 65.9 L505.0 66.5 L506.5 67.2 L508.0 67.9 L509.5 68.6 L511.0 69.3 L512.5 69.9 L514.0 70.6 L515.5 71.3 L517.0 71.9 L518.5 72.6 L520.0 73.2 L521.5 73.7 L523.1 74.3 L524.6 74.8 L526.1 75.3 L527.6 75.9 L529.1 76.5 L530.6 77.0 L532.1 77.6 L533.6 78.2 L535.1 78.8 L536.6 79.3 L538.1 79.9 L539.6 80.4 L541.1 80.9 L542.6 81.5 L544.1 82.0 L545.6 82.5 L547.1 83.0 L548.6 83.6 L550.1 84.1 L551.6 84.6 L553.1 85.1 L554.6 85.7 L556.1 86.2 L557.6 86.7 L559.1 87.2 L560.6 87.7 L562.1 88.2 L563.6 88.7 L565.1 89.2 L566.6 89.7 L568.1 90.2 L569.6 90.6 L571.1 91.1 L572.6 91.5 L574.1 92.0 L575.6 92.5 L577.1 93.0 L578.6 93.5 L580.1 94.0 L581.6 94.5 L583.1 94.9 L584.6 95.3 L586.1 95.7 L587.6 96.1 L589.1 96.5 L590.6 96.9 L592.1 97.3 L593.6 97.7 L595.1 98.1 L596.6 98.5 L598.1 98.9 L599.6 99.3 L601.2 99.7 L602.7 100.1 L604.2 100.6 L605.7 101.0 L607.2 101.3 L608.7 101.7 L610.2 102.1 L611.7 102.5 L613.2 102.9 L614.7 103.2 L616.2 103.6 L617.7 104.0 L619.2 104.4 L620.7 104.8 L622.2 105.2 L623.7 105.5 L625.2 105.8 L626.7 106.1 L628.2 106.4 L629.7 106.7 L631.2 107.0 L632.7 107.4 L634.2 107.7 L635.7 108.0 L637.2 108.4 L638.7 108.7 L640.2 109.0 L641.7 109.4 L643.2 109.7 L644.7 110.0 L646.2 110.3 L647.7 110.7 L649.2 111.0 L650.7 111.3 L652.2 111.6 L653.7 111.9 L655.2 112.2 L656.7 112.5 L658.2 112.8 L659.7 113.1 L661.2 113.4 L662.7 113.7 L664.2 114.0 L665.7 114.2 L667.2 114.5 L668.7 114.8 L670.2 115.1 L671.7 115.3 L673.2 115.6 L674.7 115.8 L676.2 116.1 L677.8 116.3 L679.3 116.5 L680.8 116.7 L682.3 116.9 L683.8 117.1 L685.3 117.3 L686.8 117.5 L688.3 117.7 L689.8 117.9 L691.3 118.1 L692.8 118.3 L694.3 118.4 L695.8 118.6 L697.3 118.8 L698.8 119.0 L700.3 119.2 L701.8 119.4 L703.3 119.6 L704.8 119.8 L706.3 119.9 L707.8 120.1 L709.3 120.3 L710.8 120.5 L712.3 120.7 L713.8 120.9 L715.3 121.1 L716.8 121.2 L718.3 121.4 L719.8 121.6 L721.3 121.7 L722.8 121.9 L724.3 122.0 L725.8 122.2 L727.3 122.3 L728.8 122.5 L730.3 122.6 L731.8 122.7 L733.3 122.9 L734.8 123.0 L736.3 123.2 L737.8 123.3 L739.3 123.4 L740.8 123.5 L742.3 123.7 L743.8 123.8 L745.3 123.9 L746.8 124.1 L748.3 124.2 L749.8 124.3 L751.3 124.4 L752.8 124.6 L754.3 124.7 L755.9 124.8 L757.4 124.9 L758.9 125.0 L760.4 125.1 L761.9 125.2 L763.4 125.3 L764.9 125.4 L766.4 125.5 L767.9 125.6 L769.4 125.7 L770.9 125.8 L772.4 125.9 L773.9 125.9 L775.4 126.0 L776.9 126.1 L778.4 126.1 L779.9 126.2 L781.4 126.3 L782.9 126.3 L784.4 126.4 L785.9 126.4 L787.4 126.5 L788.9 126.5 L790.4 126.6 L791.9 126.6 L793.4 126.7" stroke="#9a9a9a" stroke-width="0.72" stroke-dasharray="4 4.2"/>
<path d="M476.0 57.0 L477.5 57.8 L479.0 58.5 L480.5 59.3 L482.0 60.1 L483.5 60.8 L485.0 61.6 L486.5 62.4 L488.0 63.1 L489.5 63.9 L491.0 64.7 L492.5 65.4 L494.0 66.2 L495.5 66.9 L497.0 67.7 L498.4 68.4 L499.9 69.1 L501.4 69.8 L502.9 70.6 L504.4 71.3 L505.9 72.1 L507.4 72.9 L508.9 73.6 L510.4 74.3 L511.9 75.0 L513.4 75.7 L514.9 76.3 L516.4 77.0 L517.9 77.7 L519.4 78.4 L520.9 79.1 L522.4 79.8 L523.9 80.5 L525.4 81.2 L526.9 81.8 L528.4 82.5 L529.9 83.2 L531.4 83.8 L532.9 84.5 L534.4 85.2 L535.9 86.0 L537.4 86.7 L538.9 87.4 L540.3 88.1 L541.8 88.7 L543.3 89.3 L544.8 89.9 L546.3 90.5 L547.8 91.1 L549.3 91.7 L550.8 92.3 L552.3 92.9 L553.8 93.6 L555.3 94.2 L556.8 94.8 L558.3 95.4 L559.8 96.1 L561.3 96.7 L562.8 97.3 L564.3 97.9 L565.8 98.4 L567.3 98.9 L568.8 99.5 L570.3 100.0 L571.8 100.6 L573.3 101.2 L574.8 101.8 L576.3 102.4 L577.8 103.1 L579.3 103.6 L580.8 104.2 L582.3 104.8 L583.7 105.3 L585.2 105.9 L586.7 106.5 L588.2 107.0 L589.7 107.5 L591.2 108.0 L592.7 108.6 L594.2 109.1 L595.7 109.6 L597.2 110.1 L598.7 110.6 L600.2 111.1 L601.7 111.6 L603.2 112.1 L604.7 112.6 L606.2 113.2 L607.7 113.7 L609.2 114.2 L610.7 114.8 L612.2 115.3 L613.7 115.8 L615.2 116.4 L616.7 116.9 L618.2 117.4 L619.7 117.9 L621.2 118.4 L622.7 119.0 L624.2 119.5 L625.7 120.0 L627.1 120.5 L628.6 121.0 L630.1 121.5 L631.6 122.0 L633.1 122.4 L634.6 122.9 L636.1 123.3 L637.6 123.7 L639.1 124.1 L640.6 124.5 L642.1 124.8 L643.6 125.2 L645.1 125.6 L646.6 126.0 L648.1 126.4 L649.6 126.9 L651.1 127.3 L652.6 127.8 L654.1 128.4 L655.6 128.9 L657.1 129.4 L658.6 129.9 L660.1 130.3 L661.6 130.8 L663.1 131.2 L664.6 131.6 L666.1 132.1 L667.6 132.5 L669.0 132.9 L670.5 133.3 L672.0 133.7 L673.5 134.1 L675.0 134.4 L676.5 134.8 L678.0 135.2 L679.5 135.6 L681.0 136.0 L682.5 136.3 L684.0 136.7 L685.5 137.0 L687.0 137.4 L688.5 137.7 L690.0 138.1" stroke="#ffc999" stroke-width="0.72" stroke-dasharray="4 4.2"/>
<path d="M453.0 56.0 L454.5 57.0 L456.0 58.0 L457.5 58.9 L459.0 59.9 L460.5 60.8 L462.0 61.8 L463.5 62.7 L465.0 63.6 L466.5 64.5 L468.0 65.4 L469.6 66.3 L471.1 67.2 L472.6 68.0 L474.1 68.8 L475.6 69.7 L477.1 70.5 L478.6 71.3 L480.1 72.2 L481.6 73.0 L483.1 73.9 L484.6 74.8 L486.1 75.7 L487.6 76.5 L489.1 77.3 L490.6 78.0 L492.1 78.8 L493.6 79.6 L495.1 80.4 L496.6 81.3 L498.1 82.2 L499.6 83.0 L501.1 83.8 L502.7 84.6 L504.2 85.4 L505.7 86.1 L507.2 86.9 L508.7 87.6 L510.2 88.3 L511.7 89.0 L513.2 89.6 L514.7 90.3 L516.2 91.0 L517.7 91.7 L519.2 92.4 L520.7 93.1 L522.2 93.8 L523.7 94.5 L525.2 95.2 L526.7 95.9 L528.2 96.6 L529.7 97.3 L531.2 97.9 L532.7 98.6 L534.2 99.3 L535.8 100.0 L537.3 100.6 L538.8 101.3 L540.3 102.0 L541.8 102.7 L543.3 103.5 L544.8 104.2 L546.3 104.8 L547.8 105.4 L549.3 106.0 L550.8 106.6 L552.3 107.2 L553.8 107.8 L555.3 108.5 L556.8 109.1 L558.3 109.8 L559.8 110.4 L561.3 111.0 L562.8 111.6 L564.3 112.1 L565.8 112.6 L567.3 113.1 L568.9 113.6 L570.4 114.2 L571.9 114.7 L573.4 115.3 L574.9 115.9 L576.4 116.5 L577.9 117.0 L579.4 117.6 L580.9 118.1 L582.4 118.7 L583.9 119.2" stroke="#94d894" stroke-width="0.72" stroke-dasharray="4 4.2"/>
<path d="M455.0 54.0 L456.5 55.2 L458.0 56.3 L459.5 57.4 L461.0 58.5 L462.5 59.6 L464.0 60.7 L465.5 61.7 L467.0 62.8 L468.5 63.8 L470.0 64.8 L471.5 65.8 L473.0 66.7 L474.5 67.7 L476.0 68.7 L477.5 69.7 L479.0 70.6 L480.5 71.4 L482.0 72.2 L483.5 73.0 L485.0 73.8 L486.6 74.6 L488.1 75.4 L489.6 76.3 L491.1 77.1 L492.6 78.0 L494.1 78.9 L495.6 79.7 L497.1 80.6 L498.6 81.5 L500.1 82.3 L501.6 83.2 L503.1 84.0 L504.6 84.8 L506.1 85.6 L507.6 86.4 L509.1 87.2 L510.6 88.0 L512.1 88.9 L513.6 89.7 L515.1 90.5 L516.6 91.3 L518.1 92.1 L519.6 92.9 L521.1 93.7 L522.6 94.5 L524.1 95.3 L525.6 96.0 L527.1 96.7 L528.6 97.5 L530.1 98.2 L531.6 99.0 L533.1 99.7 L534.6 100.5 L536.1 101.2 L537.6 102.0 L539.1 102.7 L540.6 103.4 L542.1 104.1 L543.6 104.9 L545.1 105.6 L546.6 106.3 L548.2 107.1 L549.7 107.9 L551.2 108.7 L552.7 109.4 L554.2 110.2 L555.7 110.9 L557.2 111.6 L558.7 112.3 L560.2 113.0 L561.7 113.6 L563.2 114.3 L564.7 114.9 L566.2 115.5 L567.7 116.2 L569.2 116.8 L570.7 117.4 L572.2 118.0 L573.7 118.6 L575.2 119.2 L576.7 119.9 L578.2 120.6" stroke="#d894e2" stroke-width="0.72" stroke-dasharray="4 4.2"/>
<path d="M452.0 55.5 L453.5 56.5 L455.0 57.5 L456.5 58.4 L458.0 59.4 L459.5 60.4 L461.0 61.3 L462.5 62.3 L464.0 63.2 L465.5 64.1 L467.0 65.1 L468.5 66.0 L470.0 66.9 L471.5 67.9 L473.0 68.8 L474.5 69.8 L476.0 70.8 L477.5 71.8 L479.0 72.8 L480.5 73.9 L482.0 74.9 L483.5 75.9 L485.0 76.9 L486.5 77.9 L488.0 78.8 L489.5 79.8 L491.0 80.7 L492.5 81.6 L494.0 82.4 L495.5 83.3 L497.0 84.1 L498.5 85.0 L500.0 85.8 L501.5 86.7 L503.0 87.5 L504.5 88.3 L506.0 89.2 L507.5 90.0 L509.0 90.8 L510.5 91.7 L512.0 92.5 L513.5 93.4 L515.0 94.2 L516.5 95.0 L518.0 95.9 L519.5 96.7 L521.0 97.6 L522.5 98.5 L524.0 99.4 L525.5 100.3 L527.0 101.2 L528.5 101.9 L530.0 102.6 L531.5 103.3 L533.0 104.0 L534.5 104.8 L536.0 105.6 L537.5 106.5 L539.0 107.3 L540.5 108.2 L542.0 109.0 L543.5 109.8 L545.0 110.5 L546.5 111.3 L548.0 112.0 L549.5 112.8 L551.0 113.6 L552.5 114.4 L554.0 115.2 L555.5 116.0 L557.0 116.8 L558.5 117.6 L560.0 118.3" stroke="#ff9c9c" stroke-width="0.72" stroke-dasharray="4 4.2"/>
<path d="M455.8 66.5 L457.3 67.6 L458.8 68.6 L460.3 69.7 L461.8 70.7 L463.3 71.7 L464.8 72.7 L466.3 73.6 L467.8 74.7 L469.3 75.7 L470.8 76.8 L472.3 77.9 L473.8 79.0 L475.3 80.1 L476.8 81.3 L478.3 82.4 L479.8 83.5 L481.3 84.6 L482.8 85.7 L484.3 86.7 L485.8 87.8 L487.3 88.8 L488.8 89.8 L490.3 90.9 L491.8 91.9 L493.3 92.9 L494.8 93.9 L496.3 94.9 L497.8 95.8 L499.3 96.8 L500.8 97.7 L502.3 98.7 L503.8 99.7 L505.3 100.8 L506.8 101.8 L508.3 102.8 L509.8 103.8 L511.3 104.8 L512.8 105.8 L514.3 106.8 L515.8 107.8 L517.3 108.8 L518.8 109.8 L520.3 110.8 L521.8 111.8 L523.3 112.7 L524.8 113.6 L526.3 114.5 M757.6 224.5 L759.1 225.1 L760.6 225.6 L762.1 226.2 L763.6 226.8 L765.1 227.4 L766.5 228.0 L768.0 228.5 L769.5 229.1 L771.0 229.7 L772.5 230.3 L774.0 230.9 L775.5 231.5 L777.0 232.1 L778.5 232.7 L780.0 233.3 L781.5 233.9 L783.0 234.5 L784.5 235.1 L785.9 235.7 L787.4 236.3 L788.9 236.9 L790.4 237.5 L791.9 238.1 L793.4 238.6" stroke="#9c9cff" stroke-width="0.72" stroke-dasharray="4 4.2"/>
<path d="M455.8 116.2 L457.3 116.8 L458.8 117.4 L460.3 118.0 L461.8 118.5 L463.3 119.1 L464.8 119.7 L466.3 120.2 L467.8 120.8 L469.3 121.3 L470.8 121.8 L472.3 122.3 L473.8 122.9 L475.3 123.4 L476.8 123.9 L478.3 124.4 L479.8 124.8 L481.3 125.3 L482.8 125.8 L484.3 126.2 L485.8 126.7 L487.3 127.1 L488.8 127.6 L490.3 128.1 L491.8 128.5 L493.3 129.0 L494.8 129.4 L496.3 129.9 L497.8 130.3 L499.3 130.8 L500.8 131.3 L502.3 131.7 L503.8 132.2 L505.3 132.6 L506.8 133.1 L508.3 133.5 L509.8 134.0 L511.3 134.4 L512.8 134.9 L514.3 135.3 L515.8 135.8 L517.3 136.2 L518.8 136.7 L520.3 137.1 L521.8 137.5 L523.3 138.0 L524.8 138.4 L526.3 138.9 L527.8 139.3 L529.3 139.7 L530.8 140.2 L532.3 140.6 L533.8 141.0 L535.3 141.5 L536.8 141.9 L538.3 142.3 L539.8 142.8 L541.3 143.2 L542.8 143.6 L544.3 144.1 L545.8 144.5 L547.3 144.9 L548.8 145.3 L550.3 145.8 L551.8 146.2 L553.3 146.6 L554.8 147.0 L556.3 147.4 L557.8 147.7 L559.3 148.1 L560.8 148.5 L562.3 148.8 L563.8 149.2 L565.3 149.6 L566.8 149.9 L568.3 150.3 L569.8 150.6 L571.3 150.9 L572.8 151.3 L574.3 151.6 L575.8 151.9 L577.3 152.3 L578.8 152.6 L580.3 152.9 L581.8 153.2 L583.3 153.5 L584.8 153.8 L586.3 154.1 L587.8 154.4 L589.3 154.7 L590.8 154.9 L592.3 155.2 L593.8 155.5 L595.3 155.7 L596.8 156.0 L598.3 156.2 L599.8 156.4 L601.3 156.6 L602.8 156.9 L604.3 157.1 L605.8 157.3 L607.3 157.5 L608.8 157.7 L610.3 157.9 L611.8 158.1 L613.3 158.2 L614.8 158.4 L616.3 158.6 L617.8 158.8 L619.3 159.0 L620.8 159.1 L622.3 159.3 L623.8 159.5 L625.4 159.6 L626.9 159.8 L628.4 160.0 L629.9 160.1 L631.4 160.3 L632.9 160.4 L634.4 160.6 L635.9 160.8 L637.4 160.9 L638.9 161.1 L640.4 161.2 L641.9 161.4 L643.4 161.5 L644.9 161.7 L646.4 161.8 L647.9 162.0 L649.4 162.1 L650.9 162.3 L652.4 162.4 L653.9 162.6 L655.4 162.8 L656.9 162.9 L658.4 163.1 L659.9 163.3 L661.4 163.5 L662.9 163.7 L664.4 163.8 L665.9 164.0 L667.4 164.2 L668.9 164.4 L670.4 164.5 L671.9 164.7 L673.4 164.8 L674.9 165.0 L676.4 165.1 L677.9 165.2 L679.4 165.3 L680.9 165.4 L682.4 165.5 L683.9 165.6 L685.4 165.7 L686.9 165.7 L688.4 165.8 L689.9 165.9 L691.4 166.0 L692.9 166.0 L694.4 166.1 L695.9 166.2 L697.4 166.3 L698.9 166.3 L700.4 166.4 L701.9 166.4 L703.4 166.5 L704.9 166.6 L706.4 166.6 L707.9 166.6 L709.4 166.7 L710.9 166.7 L712.4 166.8 L713.9 166.8 L715.4 166.8 L716.9 166.9 L718.4 166.9 L719.9 166.9 L721.4 166.9 L722.9 167.0 L724.4 167.0 L725.9 167.0 L727.4 167.0 L728.9 167.1 L730.4 167.1 L731.9 167.1 L733.4 167.1 L734.9 167.1 L736.4 167.2 L737.9 167.2 L739.4 167.2 L740.9 167.2 L742.4 167.2 L743.9 167.2 L745.4 167.3 L746.9 167.3 L748.4 167.3 L749.9 167.3 L751.4 167.3 L752.9 167.3 L754.4 167.3 L755.9 167.3 L757.4 167.3 L758.9 167.3 L760.4 167.3 L761.9 167.3 L763.4 167.3 L764.9 167.2 L766.4 167.2 L767.9 167.2 L769.4 167.2 L770.9 167.1 L772.4 167.1 L773.9 167.1 L775.4 167.0 L776.9 167.0 L778.4 166.9 L779.9 166.9 L781.4 166.9 L782.9 166.8 L784.4 166.7 L785.9 166.6 L787.4 166.5 L788.9 166.4 L790.4 166.3 L791.9 166.3 L793.4 166.2" stroke="#9a9a9a" stroke-width="0.72"/>
<path d="M455.8 118.6 L457.3 119.2 L458.8 119.9 L460.3 120.5 L461.8 121.1 L463.3 121.7 L464.8 122.3 L466.3 122.9 L467.8 123.5 L469.3 124.1 L470.8 124.7 L472.3 125.3 L473.8 125.8 L475.3 126.4 L476.8 127.0 L478.3 127.5 L479.8 128.1 L481.3 128.6 L482.8 129.2 L484.3 129.7 L485.8 130.3 L487.3 130.8 L488.8 131.3 L490.3 131.9 L491.7 132.4 L493.2 133.0 L494.7 133.5 L496.2 134.0 L497.7 134.6 L499.2 135.1 L500.7 135.6 L502.2 136.1 L503.7 136.7 L505.2 137.2 L506.7 137.7 L508.2 138.2 L509.7 138.7 L511.2 139.3 L512.7 139.8 L514.2 140.3 L515.7 140.8 L517.2 141.3 L518.7 141.9 L520.2 142.4 L521.7 142.9 L523.2 143.4 L524.7 144.0 L526.2 144.5 L527.7 145.0 L529.2 145.6 L530.7 146.1 L532.2 146.6 L533.7 147.1 L535.2 147.7 L536.7 148.2 L538.2 148.7 L539.7 149.2 L541.2 149.8 L542.7 150.3 L544.2 150.8 L545.7 151.3 L547.2 151.7 L548.7 152.2 L550.2 152.7 L551.7 153.1 L553.2 153.6 L554.7 154.0 L556.2 154.4 L557.7 154.9 L559.2 155.4 L560.6 155.8 L562.1 156.3 L563.6 156.8 L565.1 157.2 L566.6 157.7 L568.1 158.2 L569.6 158.7 L571.1 159.1 L572.6 159.6 L574.1 160.1 L575.6 160.5 L577.1 161.0 L578.6 161.4 L580.1 161.9 L581.6 162.3 L583.1 162.8 L584.6 163.2 L586.1 163.6 L587.6 164.0 L589.1 164.4 L590.6 164.8 L592.1 165.2 L593.6 165.6 L595.1 166.0 L596.6 166.3 L598.1 166.7 L599.6 167.1 L601.1 167.5 L602.6 167.8 L604.1 168.2 L605.6 168.6 L607.1 168.9 L608.6 169.3 L610.1 169.6 L611.6 170.0 L613.1 170.3 L614.6 170.6 L616.1 171.0 L617.6 171.3 L619.1 171.6 L620.6 171.9 L622.1 172.2 L623.6 172.5 L625.1 172.8 L626.6 173.1 L628.1 173.4 L629.6 173.6 L631.0 173.9 L632.5 174.1 L634.0 174.4 L635.5 174.6 L637.0 174.9 L638.5 175.1 L640.0 175.4 L641.5 175.7 L643.0 175.9 L644.5 176.2 L646.0 176.4 L647.5 176.7 L649.0 177.0 L650.5 177.3 L652.0 177.6 L653.5 177.9 L655.0 178.3 L656.5 178.6 L658.0 179.0 L659.5 179.3 L661.0 179.7 L662.5 180.0 L664.0 180.4 L665.5 180.7" stroke="#ffc999" stroke-width="0.72"/>
<path d="M455.8 127.9 L457.3 128.5 L458.8 129.2 L460.3 129.8 L461.8 130.4 L463.4 131.1 L464.9 131.7 L466.4 132.3 L467.9 132.9 L469.4 133.6 L470.9 134.2 L472.4 134.8 L473.9 135.4 L475.4 136.0 L477.0 136.6 L478.5 137.3 L480.0 137.9 L481.5 138.5 L483.0 139.1 L484.5 139.7 L486.0 140.3 L487.5 140.9 L489.0 141.5 L490.5 142.1 L492.1 142.7 L493.6 143.3 L495.1 143.9 L496.6 144.5 L498.1 145.1 L499.6 145.7 L501.1 146.3 L502.6 146.9 L504.1 147.5 L505.7 148.1 L507.2 148.7 L508.7 149.3 L510.2 149.9 L511.7 150.5 L513.2 151.0 L514.7 151.6 L516.2 152.2 L517.7 152.8 L519.3 153.4 L520.8 154.0 L522.3 154.5 L523.8 155.1 L525.3 155.7 L526.8 156.3 L528.3 156.8 L529.8 157.4 L531.3 157.9 L532.8 158.5 L534.4 159.0 L535.9 159.6 L537.4 160.1 L538.9 160.6 L540.4 161.1 L541.9 161.6 L543.4 162.1 L544.9 162.7 L546.4 163.1 L548.0 163.6 L549.5 164.1 L551.0 164.6 L552.5 165.1 L554.0 165.6" stroke="#94d894" stroke-width="0.72"/>
<path d="M455.8 126.6 L457.3 127.3 L458.8 128.0 L460.3 128.6 L461.8 129.3 L463.3 130.0 L464.8 130.6 L466.2 131.3 L467.7 132.0 L469.2 132.7 L470.7 133.3 L472.2 134.0 L473.7 134.7 L475.2 135.3 L476.7 136.0 L478.2 136.7 L479.7 137.3 L481.2 138.0 L482.7 138.6 L484.2 139.3 L485.6 140.0 L487.1 140.6 L488.6 141.3 L490.1 142.0 L491.6 142.6 L493.1 143.3 L494.6 143.9 L496.1 144.6 L497.6 145.3 L499.1 145.9 L500.6 146.6 L502.1 147.3 L503.6 147.9 L505.0 148.6 L506.5 149.3 L508.0 149.9 L509.5 150.6 L511.0 151.3 L512.5 151.9 L514.0 152.6 L515.5 153.3 L517.0 154.0 L518.5 154.7 L520.0 155.4 L521.5 156.1 L523.0 156.7 L524.4 157.4 L525.9 158.1 L527.4 158.7 L528.9 159.4 L530.4 160.0 L531.9 160.6 L533.4 161.2 L534.9 161.8 L536.4 162.5 L537.9 163.1 L539.4 163.7 L540.9 164.3 L542.4 164.9 L543.8 165.4 L545.3 166.0 L546.8 166.6 L548.3 167.2 L549.8 167.7 L551.3 168.3 L552.8 168.8 M757.6 224.5 L759.1 224.8 L760.6 225.1 L762.1 225.4 L763.6 225.6 L765.1 225.9 L766.5 226.2 L768.0 226.5 L769.5 226.8 L771.0 227.1 L772.5 227.3 L774.0 227.6 L775.5 227.9 L777.0 228.2 L778.5 228.5 L780.0 228.7 L781.5 229.0 L783.0 229.3 L784.5 229.6 L785.9 229.8 L787.4 230.1 L788.9 230.4 L790.4 230.7 L791.9 231.0 L793.4 231.3" stroke="#d894e2" stroke-width="0.72"/>
<path d="M455.8 126.0 L457.3 126.7 L458.8 127.4 L460.3 128.2 L461.8 128.9 L463.3 129.6 L464.9 130.3 L466.4 131.1 L467.9 131.8 L469.4 132.5 L470.9 133.2 L472.4 134.0 L473.9 134.7 L475.4 135.4 L476.9 136.2 L478.4 136.9 L480.0 137.6 L481.5 138.4 L483.0 139.1 L484.5 139.8 L486.0 140.6 L487.5 141.3 L489.0 142.0 L490.5 142.8 L492.0 143.5 L493.5 144.2 L495.0 145.0 L496.6 145.7 L498.1 146.4 L499.6 147.2 L501.1 147.9 L502.6 148.6 L504.1 149.4 L505.6 150.1 L507.1 150.8 L508.6 151.5 L510.1 152.3 L511.6 153.0 L513.2 153.7 L514.7 154.4 L516.2 155.1 L517.7 155.8 L519.2 156.6 L520.7 157.3 L522.2 158.0 L523.7 158.7 L525.2 159.4 L526.7 160.1 L528.3 160.9 L529.8 161.6 L531.3 162.3 L532.8 163.0 L534.3 163.7 L535.8 164.4 M714.5 224.5 L716.0 224.9 L717.5 225.2 L719.0 225.6 L720.5 225.9 L721.9 226.2 L723.4 226.6 L724.9 226.9 L726.4 227.2 L727.9 227.6 L729.4 227.9 L730.9 228.2 L732.4 228.5 L733.9 228.8 L735.3 229.2 L736.8 229.5 L738.3 229.8 L739.8 230.1 L741.3 230.4 L742.8 230.7 L744.3 231.0 L745.8 231.3 L747.3 231.7 L748.7 232.0 L750.2 232.3 L751.7 232.6 L753.2 232.9 L754.7 233.2 L756.2 233.5 L757.7 233.8 L759.2 234.1 L760.6 234.4 L762.1 234.7 L763.6 235.0 L765.1 235.4 L766.6 235.7 L768.1 236.0 L769.6 236.3 L771.1 236.6 L772.6 236.9 L774.0 237.2 L775.5 237.5 L777.0 237.8 L778.5 238.1 L780.0 238.4 L781.5 238.7 L783.0 239.0 L784.5 239.3 L786.0 239.6 L787.4 239.9 L788.9 240.2 L790.4 240.5 L791.9 240.8 L793.4 241.1" stroke="#ff9c9c" stroke-width="0.72"/>
<path d="M455.8 136.0 L457.3 136.8 L458.8 137.6 L460.3 138.4 L461.8 139.3 L463.3 140.1 L464.8 140.9 L466.3 141.7 L467.8 142.6 L469.2 143.4 L470.7 144.2 L472.2 145.0 L473.7 145.9 L475.2 146.7 L476.7 147.6 L478.2 148.4 L479.7 149.3 L481.2 150.1 L482.7 150.9 L484.2 151.8 L485.7 152.6 L487.2 153.5 L488.7 154.3 L490.2 155.1 L491.7 156.0 L493.1 156.8 L494.6 157.6 L496.1 158.4 L497.6 159.3 L499.1 160.1 L500.6 160.9 L502.1 161.7 L503.6 162.5 M632.4 225.0 L633.9 225.7 L635.4 226.3 L636.9 226.9 L638.4 227.6 L639.9 228.2 L641.4 228.9 L642.9 229.5 L644.4 230.1 L645.9 230.8 L647.4 231.4 L648.9 232.0 L650.4 232.6 L651.9 233.3 L653.4 233.9 L654.9 234.5 L656.4 235.1 L657.9 235.8 L659.4 236.4 L660.9 237.0 L662.4 237.7 L663.9 238.3 L665.4 238.9 L666.9 239.5 L668.4 240.1 L669.9 240.8 L671.4 241.4 L672.9 242.0 L674.4 242.6 L675.9 243.2 L677.4 243.8 L678.9 244.4 L680.4 245.0 L681.9 245.6 L683.4 246.2 L684.9 246.7 L686.4 247.3 L687.9 247.9 L689.4 248.5 L690.9 249.0 L692.4 249.6 L693.9 250.2 L695.4 250.8 L697.0 251.3 L698.5 251.9 L700.0 252.4 L701.5 253.0 L703.0 253.6 L704.5 254.1 L706.0 254.7 L707.5 255.2 L709.0 255.8 L710.5 256.3 L712.0 256.9 L713.5 257.5 L715.0 258.0 L716.5 258.6 L718.0 259.1 L719.5 259.7 L721.0 260.3 L722.5 260.8 L724.0 261.4 L725.5 262.0 L727.0 262.5 L728.5 263.1 L730.0 263.6 L731.5 264.2 L733.0 264.7 L734.5 265.3 L736.0 265.9 L737.5 266.4 L739.0 266.9 L740.5 267.5 L742.0 268.0 L743.5 268.5 L745.0 269.0 L746.5 269.5 L748.0 270.1 L749.5 270.6 L751.0 271.1 L752.5 271.6 L754.0 272.1 L755.5 272.6 L757.0 273.0 L758.5 273.5 L760.0 274.0" stroke="#9c9cff" stroke-width="0.72"/>
<path d="M455.8 162.0 L457.3 162.6 L458.8 163.1 L460.3 163.6 L461.8 164.1 L463.3 164.6 L464.8 165.1 L466.3 165.6 L467.8 166.1 L469.3 166.6 L470.8 167.1 L472.3 167.6 L473.8 168.1 L475.3 168.6 L476.8 169.1 L478.3 169.6 L479.8 170.1 L481.3 170.6 L482.8 171.1 L484.3 171.6 L485.8 172.1 L487.3 172.6 L488.8 173.1 L490.3 173.6 L491.8 174.0 L493.3 174.5 L494.8 175.0 L496.3 175.4 L497.8 175.9 L499.3 176.3 L500.8 176.7 L502.3 177.0 L503.8 177.4 L505.3 177.7 L506.8 178.1 L508.3 178.4 L509.8 178.7 L511.3 179.1 L512.8 179.4 L514.3 179.7 L515.8 180.1 L517.3 180.4 L518.8 180.8 L520.3 181.1 L521.8 181.5 L523.3 181.9 L524.8 182.3 L526.3 182.7 L527.8 183.1 L529.3 183.5 L530.8 183.8 L532.3 184.2 L533.8 184.5 L535.3 184.8 L536.8 185.1 L538.3 185.4 L539.8 185.7 L541.3 186.0 L542.8 186.2 L544.3 186.5 L545.8 186.7 L547.3 186.9 L548.8 187.1 L550.3 187.2 L551.8 187.4 L553.3 187.5 L554.8 187.7 L556.3 187.9 L557.8 188.2 L559.3 188.6 L560.8 189.0 L562.3 189.4 L563.8 189.8 L565.3 190.2 L566.8 190.5 L568.3 190.8 L569.8 191.1 L571.3 191.4 L572.8 191.7 L574.3 192.0 L575.8 192.2 L577.3 192.5 L578.8 192.8 L580.3 193.0 L581.8 193.3 L583.3 193.5 L584.8 193.8 L586.3 193.9 L587.8 194.1 L589.3 194.2 L590.8 194.3 L592.3 194.4 L593.8 194.4 L595.3 194.5 L596.8 194.6 L598.3 194.6 L599.8 194.7 L601.3 194.8 L602.8 194.9 L604.3 195.0 L605.8 195.1 L607.3 195.2 L608.8 195.4 L610.3 195.5 L611.8 195.6 L613.3 195.7 L614.8 195.9 L616.3 196.0 L617.8 196.1 L619.3 196.3 L620.8 196.4 L622.3 196.6 L623.8 196.7 L625.4 196.9 L626.9 197.1 L628.4 197.2 L629.9 197.4 L631.4 197.5 L632.9 197.7 L634.4 197.8 L635.9 197.9 L637.4 198.0 L638.9 198.1 L640.4 198.2 L641.9 198.4 L643.4 198.5 L644.9 198.6 L646.4 198.7 L647.9 198.9 L649.4 199.1 L650.9 199.3 L652.4 199.5 L653.9 199.7 L655.4 199.9 L656.9 200.0 L658.4 200.1 L659.9 200.2 L661.4 200.3 L662.9 200.3 L664.4 200.4 L665.9 200.4 L667.4 200.5 L668.9 200.5 L670.4 200.6 L671.9 200.6 L673.4 200.6 L674.9 200.7 L676.4 200.7 L677.9 200.8 L679.4 200.8 L680.9 200.8 L682.4 200.8 L683.9 200.9 L685.4 200.9 L686.9 200.9 L688.4 200.9 L689.9 201.0 L691.4 201.0 L692.9 201.0 L694.4 201.0 L695.9 201.0 L697.4 201.0 L698.9 201.0 L700.4 201.0 L701.9 201.0 L703.4 201.0 L704.9 201.0 L706.4 201.0 L707.9 201.0 L709.4 201.0 L710.9 200.9 L712.4 200.9 L713.9 200.9 L715.4 200.9 L716.9 200.9 L718.4 200.9 L719.9 200.9 L721.4 200.8 L722.9 200.8 L724.4 200.8 L725.9 200.8 L727.4 200.8 L728.9 200.7 L730.4 200.7 L731.9 200.7 L733.4 200.7 L734.9 200.6 L736.4 200.6 L737.9 200.6 L739.4 200.6 L740.9 200.6 L742.4 200.5 L743.9 200.5 L745.4 200.5 L746.9 200.4 L748.4 200.4 L749.9 200.4 L751.4 200.3 L752.9 200.3 L754.4 200.3 L755.9 200.2 L757.4 200.2 L758.9 200.2 L760.4 200.1 L761.9 200.1 L763.4 200.0 L764.9 200.0 L766.4 199.9 L767.9 199.9 L769.4 199.8 L770.9 199.8 L772.4 199.7 L773.9 199.6 L775.4 199.6 L776.9 199.5 L778.4 199.4 L779.9 199.4 L781.4 199.3 L782.9 199.1 L784.4 199.0 L785.9 198.9 L787.4 198.8 L788.9 198.7 L790.4 198.5 L791.9 198.4 L793.4 198.3" stroke="#9a9a9a" stroke-width="0.72" stroke-dasharray="1.2 3.8"/>
<path d="M455.8 164.5 L457.3 165.0 L458.8 165.5 L460.3 166.0 L461.8 166.5 L463.3 167.1 L464.8 167.6 L466.3 168.1 L467.8 168.7 L469.3 169.2 L470.8 169.7 L472.3 170.3 L473.8 170.8 L475.3 171.4 L476.8 171.9 L478.3 172.5 L479.8 173.0 L481.3 173.5 L482.8 174.1 L484.3 174.6 L485.8 175.0 L487.3 175.5 L488.8 175.9 L490.3 176.4 L491.8 176.8 L493.3 177.3 L494.8 177.8 L496.3 178.3 L497.8 178.7 L499.3 179.2 L500.8 179.7 L502.3 180.2 L503.8 180.7 L505.3 181.1 L506.8 181.6 L508.3 182.1 L509.8 182.5 L511.3 183.0 L512.8 183.4 L514.3 183.9 L515.8 184.3 L517.3 184.7 L518.8 185.2 L520.3 185.6 L521.8 186.0 L523.3 186.4 L524.8 186.8 L526.3 187.2 L527.8 187.5 L529.3 187.9 L530.8 188.3 L532.3 188.7 L533.8 189.0 L535.3 189.3 L536.8 189.6 L538.3 189.8 L539.8 190.1 L541.3 190.3 L542.8 190.5 L544.3 190.8 L545.8 191.1 L547.3 191.4 L548.8 191.7 L550.3 192.0 L551.8 192.4 L553.3 192.8 L554.8 193.2 L556.3 193.6 L557.8 194.1 L559.3 194.5 L560.8 194.9 L562.3 195.3 L563.8 195.7 L565.3 196.1 L566.8 196.5 L568.3 196.9 L569.8 197.3 L571.3 197.6 L572.8 198.0 L574.3 198.4 L575.8 198.7 L577.3 199.1 L578.8 199.5 L580.3 199.8 L581.8 200.2 L583.3 200.5 L584.8 200.9 L586.3 201.2 L587.8 201.5 L589.3 201.9 L590.8 202.2 L592.3 202.5 L593.8 202.9 L595.3 203.2 L596.8 203.5 L598.3 203.8 L599.8 204.0 L601.3 204.3 L602.8 204.6 L604.3 204.8 L605.8 205.1 L607.3 205.3 L608.8 205.5 L610.3 205.8 L611.8 206.0 L613.3 206.2 L614.8 206.4 L616.3 206.7 L617.8 206.9 L619.3 207.1 L620.8 207.4 L622.3 207.6 L623.8 207.8 L625.3 208.1 L626.8 208.3 L628.3 208.5 L629.8 208.7 L631.3 209.0 L632.8 209.2 L634.3 209.4 L635.8 209.7 L637.3 209.9 L638.8 210.1 L640.3 210.4 L641.8 210.6 L643.3 210.8 L644.8 211.1 L646.3 211.3 L647.8 211.6 M758.0 225.2 L759.5 225.3 L761.0 225.5 L762.4 225.6 L763.9 225.7 L765.4 225.9 L766.9 226.0 L768.3 226.2 L769.8 226.3 L771.3 226.5 L772.8 226.7 L774.2 226.8 L775.7 227.0 L777.2 227.1 L778.6 227.3 L780.1 227.4 L781.6 227.5 L783.1 227.7 L784.5 227.8 L786.0 227.9 L787.5 228.0 L789.0 228.1 L790.4 228.3 L791.9 228.4 L793.4 228.5" stroke="#ffc999" stroke-width="0.72" stroke-dasharray="1.2 3.8"/>
<path d="M455.8 172.5 L457.3 173.0 L458.8 173.5 L460.3 174.0 L461.8 174.5 L463.3 175.0 L464.8 175.6 L466.2 176.1 L467.7 176.8 L469.2 177.4 L470.7 178.0 L472.2 178.6 L473.7 179.2 L475.2 179.7 L476.7 180.2 L478.2 180.7 L479.7 181.2 L481.2 181.6 L482.7 182.1 L484.2 182.6 L485.7 183.2 L487.1 183.7 L488.6 184.3 L490.1 184.8 L491.6 185.3 L493.1 185.8 L494.6 186.3 L496.1 186.8 L497.6 187.2 L499.1 187.7 L500.6 188.1 L502.1 188.6 L503.6 189.0 L505.1 189.4 L506.5 189.8 L508.0 190.2 L509.5 190.6 L511.0 191.0 L512.5 191.5 L514.0 191.9 L515.5 192.3 L517.0 192.8 L518.5 193.2 L520.0 193.7 L521.5 194.1 L523.0 194.6 L524.5 195.0 L526.0 195.5 L527.4 195.9 L528.9 196.4 L530.4 196.8 L531.9 197.3 L533.4 197.7 L534.9 198.2 L536.4 198.6" stroke="#94d894" stroke-width="0.72" stroke-dasharray="1.2 3.8"/>
<path d="M455.8 173.0 L457.3 173.6 L458.8 174.2 L460.3 174.8 L461.7 175.4 L463.2 176.0 L464.7 176.6 L466.2 177.2 L467.7 177.8 L469.2 178.4 L470.7 179.0 L472.2 179.6 L473.6 180.1 L475.1 180.7 L476.6 181.2 L478.1 181.8 L479.6 182.3 L481.1 182.9 L482.6 183.5 L484.1 184.1 L485.5 184.7 L487.0 185.3 L488.5 185.9 L490.0 186.5 L491.5 187.1 L493.0 187.7 L494.5 188.2 L496.0 188.8 L497.4 189.3 L498.9 189.9 L500.4 190.4 L501.9 190.9 L503.4 191.3 L504.9 191.8 L506.4 192.2 L507.9 192.6 L509.3 193.0 L510.8 193.5 L512.3 193.9 L513.8 194.3 L515.3 194.8 L516.8 195.3 L518.3 195.8 L519.8 196.3 L521.2 196.8 L522.7 197.3 L524.2 197.8 L525.7 198.3 L527.2 198.8 L528.7 199.3 L530.2 199.9 L531.7 200.4 L533.1 200.9 L534.6 201.4 L536.1 201.9 L537.6 202.4 M616.0 225.0 L617.5 225.4 L619.0 225.8 L620.5 226.2 L622.0 226.6 L623.5 226.9 L625.0 227.3 L626.5 227.7 L628.0 228.0 L629.5 228.4 L631.0 228.7 L632.5 229.1 L634.0 229.3 L635.5 229.6 L637.0 229.9 L638.6 230.2 L640.1 230.4 L641.6 230.7 L643.1 231.1 L644.6 231.5 L646.1 231.9 L647.6 232.3 L649.1 232.7 L650.6 233.1 L652.1 233.6 L653.6 234.0 L655.1 234.4 L656.6 234.9 L658.1 235.3 L659.6 235.7 L661.1 236.1 L662.6 236.5 L664.1 236.9 L665.6 237.3 L667.1 237.7 L668.6 238.1 L670.1 238.5 L671.6 238.8 L673.1 239.2 L674.6 239.6 L676.1 239.9 L677.6 240.3 L679.1 240.6 L680.6 240.9 L682.1 241.2 L683.7 241.5 L685.2 241.8 L686.7 242.1 L688.2 242.4 L689.7 242.7 L691.2 242.9 L692.7 243.2 L694.2 243.5 L695.7 243.7 L697.2 244.0 L698.7 244.3 L700.2 244.5 L701.7 244.8 L703.2 245.0 L704.7 245.3 L706.2 245.5 L707.7 245.8 L709.2 246.0 L710.7 246.3 L712.2 246.5 L713.7 246.7 L715.2 247.0 L716.7 247.2 L718.2 247.5 L719.7 247.7 L721.2 248.0 L722.7 248.2 L724.2 248.4 L725.7 248.7 L727.3 248.9 L728.8 249.2 L730.3 249.4 L731.8 249.7 L733.3 249.9 L734.8 250.1 L736.3 250.4 L737.8 250.6 L739.3 250.8 L740.8 251.1 L742.3 251.3 L743.8 251.5 L745.3 251.7 L746.8 252.0 L748.3 252.2 L749.8 252.4 L751.3 252.6 L752.8 252.8 L754.3 253.0 L755.8 253.2 L757.3 253.4 L758.8 253.5 L760.3 253.7 L761.8 253.9 L763.3 254.1 L764.8 254.2 L766.3 254.4 L767.8 254.6 L769.3 254.7 L770.8 254.9 L772.4 255.0 L773.9 255.2 L775.4 255.3 L776.9 255.5 L778.4 255.6 L779.9 255.8 L781.4 255.9 L782.9 256.1 L784.4 256.2 L785.9 256.4 L787.4 256.5 L788.9 256.7 L790.4 256.8 L791.9 257.0 L793.4 257.2" stroke="#d894e2" stroke-width="0.72" stroke-dasharray="1.2 3.8"/>
<path d="M455.8 169.0 L457.3 169.6 L458.8 170.1 L460.3 170.7 L461.8 171.3 L463.2 171.9 L464.7 172.5 L466.2 173.1 L467.7 173.7 L469.2 174.3 L470.7 175.0 L472.2 175.6 L473.7 176.3 L475.2 176.9 L476.6 177.5 L478.1 178.2 L479.6 178.9 L481.1 179.5 L482.6 180.2 L484.1 180.9 L485.6 181.6 L487.1 182.3 L488.5 183.0 L490.0 183.7 L491.5 184.4 L493.0 185.1 L494.5 185.7 L496.0 186.4 L497.5 187.1 L499.0 187.7 L500.5 188.3 L501.9 189.0 L503.4 189.6 L504.9 190.2 L506.4 190.7 L507.9 191.3 L509.4 191.8 L510.9 192.4 L512.4 192.9 L513.9 193.5 L515.3 194.1 L516.8 194.6 L518.3 195.2 L519.8 195.8 L521.3 196.3 M607.2 224.5 L608.7 224.9 L610.2 225.4 L611.7 225.8 L613.2 226.2 L614.7 226.7 L616.2 227.1 L617.7 227.5 L619.2 227.9 L620.7 228.3 L622.2 228.6 L623.7 229.0 L625.2 229.4 L626.7 229.8 L628.2 230.1 L629.7 230.5 L631.2 230.8 L632.7 231.1 L634.2 231.5 L635.7 231.8 L637.2 232.1 L638.7 232.5 L640.2 232.8 L641.7 233.1 L643.2 233.5 L644.7 233.8 L646.2 234.1 L647.7 234.5 L649.2 234.9 L650.7 235.2 L652.2 235.6 L653.8 236.0 L655.3 236.4 L656.8 236.8 L658.3 237.3 L659.8 237.7 L661.3 238.1 L662.8 238.6 L664.3 239.0 L665.8 239.5 L667.3 239.9 L668.8 240.4 L670.3 240.8 L671.8 241.3 L673.3 241.7 L674.8 242.2 L676.3 242.6 L677.8 243.0 L679.3 243.4 L680.8 243.8 L682.3 244.2 L683.8 244.6 L685.3 245.0 L686.8 245.4 L688.3 245.8 L689.8 246.2 L691.3 246.6 L692.8 247.0 L694.3 247.4 L695.8 247.8 L697.3 248.2 L698.8 248.6 L700.3 249.0 L701.8 249.4 L703.3 249.8 L704.8 250.1 L706.3 250.5 L707.8 250.8 L709.3 251.2 L710.8 251.5 L712.3 251.9 L713.8 252.2 L715.3 252.6 L716.8 252.9 L718.3 253.2 L719.8 253.5 L721.3 253.8 L722.8 254.1 L724.3 254.4 L725.8 254.7 L727.3 255.0 L728.8 255.3 L730.3 255.6 L731.8 255.8 L733.3 256.1 L734.8 256.4 L736.3 256.7 L737.8 256.9 L739.3 257.2 L740.8 257.4 L742.3 257.7 L743.8 258.0 L745.3 258.2 L746.9 258.4 L748.4 258.7 L749.9 258.9 L751.4 259.1 L752.9 259.3 L754.4 259.6 L755.9 259.8 L757.4 260.0 L758.9 260.2 L760.4 260.4 L761.9 260.5 L763.4 260.7 L764.9 260.9 L766.4 261.1 L767.9 261.2 L769.4 261.4 L770.9 261.5 L772.4 261.7 L773.9 261.9 L775.4 262.0 L776.9 262.2 L778.4 262.3 L779.9 262.5 L781.4 262.6 L782.9 262.8 L784.4 262.9 L785.9 263.1 L787.4 263.2 L788.9 263.4 L790.4 263.5 L791.9 263.7 L793.4 263.9" stroke="#ff9c9c" stroke-width="0.72" stroke-dasharray="1.2 3.8"/>
<path d="M455.8 179.7 L457.3 180.4 L458.9 181.1 L460.4 181.8 L461.9 182.5 L463.5 183.3 L465.0 184.0 L466.5 184.7 L468.0 185.5 L469.6 186.3 L471.1 187.0 L472.6 187.8 L474.2 188.5 L475.7 189.3 L477.2 190.0 L478.8 190.7 L480.3 191.4 L481.8 192.1 L483.3 192.8 L484.9 193.4 L486.4 194.1 L487.9 194.8 L489.5 195.4 L491.0 196.1 M554.3 223.3 L555.8 223.9 L557.3 224.5 L558.8 225.1 L560.3 225.7 L561.8 226.3 L563.3 226.9 L564.8 227.4 L566.3 228.0 L567.8 228.7 L569.3 229.3 L570.8 229.9 L572.3 230.5 L573.8 231.1 L575.2 231.7 L576.7 232.4 L578.2 233.0 L579.7 233.6 L581.2 234.2 L582.7 234.9 L584.2 235.5 L585.7 236.1 L587.2 236.8 L588.7 237.4 L590.2 238.0 L591.7 238.7 L593.2 239.3 L594.7 239.9 L596.2 240.5 L597.7 241.1 L599.2 241.7 L600.7 242.3 L602.2 242.9 L603.7 243.4 L605.2 244.0 L606.7 244.5 L608.2 245.1 L609.7 245.7 L611.2 246.2 L612.7 246.8 L614.2 247.3 L615.7 247.9 L617.1 248.4 L618.6 248.9 L620.1 249.5 L621.6 250.0 L623.1 250.6 L624.6 251.1 L626.1 251.7 L627.6 252.3 L629.1 252.8 L630.6 253.4 L632.1 254.0 L633.6 254.6 L635.1 255.1 L636.6 255.7 L638.1 256.3 L639.6 256.8 L641.1 257.4 L642.6 258.0 L644.1 258.5 L645.6 259.1 L647.1 259.6 L648.6 260.2 L650.1 260.8 L651.6 261.3 L653.1 261.9 L654.6 262.4 L656.1 263.0 L657.6 263.5 L659.0 264.1 L660.5 264.6 L662.0 265.2 L663.5 265.8 L665.0 266.3 L666.5 266.9 L668.0 267.5 L669.5 268.0 L671.0 268.6 L672.5 269.2 L674.0 269.7 L675.5 270.3 L677.0 270.9 L678.5 271.4 L680.0 272.0" stroke="#9c9cff" stroke-width="0.72" stroke-dasharray="1.2 3.8"/>
<path d="M690.0 138.1 L691.5 138.5 L693.0 138.9 L694.5 139.3 L696.0 139.7 L697.5 140.1 L699.0 140.5 L700.5 140.9 L702.0 141.3 L703.5 141.7 L705.0 142.1 L706.5 142.6 L708.0 143.0 L709.5 143.4 L711.0 143.8 L712.5 144.2 L714.0 144.6 L715.5 145.0 L717.0 145.3 L718.5 145.7 L720.0 146.1 L721.5 146.4 L723.0 146.8 L724.5 147.2 L726.0 147.5 L727.5 147.9 L729.0 148.2 L730.5 148.6 L732.0 148.9 L733.5 149.3 L735.0 149.6 L736.5 150.0 L738.0 150.3 L739.5 150.6 L741.0 151.0 L742.4 151.3 L743.9 151.6 L745.4 152.0 L746.9 152.3 L748.4 152.6 L749.9 152.9 L751.4 153.2 L752.9 153.5 L754.4 153.9 L755.9 154.2 L757.4 154.5 L758.9 154.8 L760.4 155.1 L761.9 155.4 L763.4 155.6 L764.9 155.9 L766.4 156.2 L767.9 156.5 L769.4 156.7 L770.9 157.0 L772.4 157.3 L773.9 157.6 L775.4 157.8 L776.9 158.1 L778.4 158.4 L779.9 158.6 L781.4 158.9 L782.9 159.1 L784.4 159.4 L785.9 159.7 L787.4 159.9 L788.9 160.2 L790.4 160.5 L791.9 160.8 L793.4 161.0" stroke="#ff8000" stroke-width="2.0" stroke-dasharray="5.8 2.5"/>
<path d="M583.9 119.2 L585.4 119.7 L586.9 120.2 L588.4 120.7 L589.9 121.2 L591.4 121.6 L592.9 122.1 L594.4 122.6 L595.9 123.0 L597.4 123.5 L598.9 123.9 L600.4 124.4 L601.9 124.9 L603.4 125.3 L604.9 125.8 L606.3 126.2 L607.8 126.7 L609.3 127.1 L610.8 127.6 L612.3 128.0 L613.8 128.4 L615.3 128.8 L616.8 129.3 L618.3 129.7 L619.8 130.1 L621.3 130.5 L622.8 131.0 L624.3 131.4 L625.8 131.8 L627.3 132.3 L628.8 132.7 L630.3 133.2 L631.8 133.6 L633.3 134.1 L634.8 134.5 L636.3 134.9 L637.8 135.3 L639.3 135.7 L640.8 136.1 L642.3 136.4 L643.8 136.8 L645.3 137.1 L646.8 137.4 L648.2 137.7 L649.7 138.0 L651.2 138.3 L652.7 138.7 L654.2 139.0 L655.7 139.3 L657.2 139.7 L658.7 140.0 L660.2 140.4 L661.7 140.8 L663.2 141.1 L664.7 141.5 L666.2 141.8 L667.7 142.2 L669.2 142.5 L670.7 142.9 L672.2 143.2 L673.7 143.6 L675.2 143.9 L676.7 144.2 L678.2 144.5 L679.7 144.8 L681.2 145.1 L682.7 145.4 L684.2 145.6 L685.7 145.9 L687.2 146.2 L688.6 146.5 L690.1 146.7 L691.6 147.0 L693.1 147.3 L694.6 147.5 L696.1 147.8 L697.6 148.1 L699.1 148.3 L700.6 148.6 L702.1 148.8 L703.6 149.0 L705.1 149.3 L706.6 149.5 L708.1 149.7 L709.6 150.0 L711.1 150.2 L712.6 150.4 L714.1 150.6 L715.6 150.8 L717.1 151.0 L718.6 151.2 L720.1 151.4 L721.6 151.6 L723.1 151.8 L724.6 152.0 L726.1 152.2 L727.6 152.4 L729.1 152.6 L730.5 152.7 L732.0 152.9 L733.5 153.1 L735.0 153.3 L736.5 153.5 L738.0 153.6 L739.5 153.8 L741.0 154.0 L742.5 154.1 L744.0 154.3 L745.5 154.4 L747.0 154.6 L748.5 154.7 L750.0 154.9 L751.5 155.0 L753.0 155.1 L754.5 155.3 L756.0 155.4 L757.5 155.5 L759.0 155.6 L760.5 155.7 L762.0 155.8 L763.5 155.9 L765.0 156.0 L766.5 156.1 L768.0 156.2 L769.5 156.3 L771.0 156.4 L772.5 156.5 L773.9 156.6 L775.4 156.6 L776.9 156.7 L778.4 156.8 L779.9 156.9 L781.4 157.0 L782.9 157.0 L784.4 157.1 L785.9 157.2 L787.4 157.3 L788.9 157.4 L790.4 157.5 L791.9 157.6 L793.4 157.6" stroke="#00a600" stroke-width="2.0" stroke-dasharray="5.8 2.5"/>
<path d="M578.2 120.6 L579.7 121.2 L581.2 121.9 L582.7 122.6 L584.2 123.3 L585.7 124.0 L587.2 124.7 L588.7 125.3 L590.2 126.0 L591.7 126.7 L593.2 127.3 L594.8 127.9 L596.3 128.5 L597.8 129.1 L599.3 129.7 L600.8 130.3 L602.3 130.8 L603.8 131.4 L605.3 132.0 L606.8 132.6 L608.3 133.3 L609.8 133.9 L611.3 134.5 L612.8 135.1 L614.3 135.7 L615.8 136.3 L617.3 136.9 L618.8 137.5 L620.3 138.0 L621.8 138.6 L623.3 139.1 L624.9 139.6 L626.4 140.2 L627.9 140.7 L629.4 141.3 L630.9 141.9 L632.4 142.5 L633.9 143.2 L635.4 143.9 L636.9 144.5 L638.4 145.2 L639.9 145.8 L641.4 146.3 L642.9 146.9 L644.4 147.4 L645.9 147.9 L647.4 148.4 L648.9 148.9 L650.4 149.4 L651.9 149.9 L653.4 150.4 L654.9 150.9 L656.5 151.4 L658.0 151.9 L659.5 152.4 L661.0 152.9 L662.5 153.5 L664.0 154.0 L665.5 154.5 L667.0 155.0 L668.5 155.5 L670.0 156.0 L671.5 156.5 L673.0 157.0 L674.5 157.5 L676.0 158.0 L677.5 158.5 L679.0 158.9 L680.5 159.4 L682.0 159.9 L683.5 160.4 L685.0 160.9 L686.6 161.3 L688.1 161.8 L689.6 162.3 L691.1 162.7 L692.6 163.2 L694.1 163.7 L695.6 164.1 L697.1 164.6 L698.6 165.0 L700.1 165.5 L701.6 166.0 L703.1 166.4 L704.6 166.9 L706.1 167.3 L707.6 167.8 L709.1 168.2 L710.6 168.6 L712.1 169.1 L713.6 169.5 L715.1 170.0 L716.7 170.4 L718.2 170.8 L719.7 171.3 L721.2 171.7 L722.7 172.1 L724.2 172.5 L725.7 173.0 L727.2 173.4 L728.7 173.8 L730.2 174.2 L731.7 174.6 L733.2 175.0 L734.7 175.5 L736.2 175.9 L737.7 176.3 L739.2 176.7 L740.7 177.1 L742.2 177.5 L743.7 177.9 L745.2 178.3 L746.7 178.7 L748.3 179.1 L749.8 179.5 L751.3 179.9 L752.8 180.3 L754.3 180.7 L755.8 181.1 L757.3 181.5 L758.8 181.9 L760.3 182.3 L761.8 182.7 L763.3 183.1 L764.8 183.5 L766.3 183.9 L767.8 184.3 L769.3 184.7 L770.8 185.1 L772.3 185.5 L773.8 185.9 L775.3 186.3 L776.8 186.7 L778.4 187.1 L779.9 187.5 L781.4 187.9 L782.9 188.3 L784.4 188.7 L785.9 189.1 L787.4 189.4 L788.9 189.8 L790.4 190.2 L791.9 190.6 L793.4 191.0" stroke="#9a00b3" stroke-width="2.0" stroke-dasharray="5.8 2.5"/>
<path d="M560.0 118.3 L561.5 119.0 L563.0 119.7 L564.5 120.4 L566.0 121.1 L567.5 121.8 L569.0 122.4 L570.5 123.1 L572.0 123.7 L573.5 124.4 L575.0 125.1 L576.5 125.8 L578.0 126.4 L579.5 127.1 L580.9 127.7 L582.4 128.4 L583.9 129.1 L585.4 129.7 L586.9 130.4 L588.4 131.1 L589.9 131.7 L591.4 132.4 L592.9 133.1 L594.4 133.7 L595.9 134.4 L597.4 135.1 L598.9 135.7 L600.4 136.4 L601.9 137.0 L603.4 137.6 L604.9 138.3 L606.4 138.9 L607.9 139.6 L609.4 140.2 L610.9 140.8 L612.4 141.5 L613.9 142.2 L615.4 142.8 L616.9 143.5 L618.4 144.2 L619.8 144.9 L621.3 145.5 L622.8 146.2 L624.3 146.8 L625.8 147.4 L627.3 148.1 L628.8 148.7 L630.3 149.3 L631.8 149.9 L633.3 150.5 L634.8 151.1 L636.3 151.7 L637.8 152.3 L639.3 152.8 L640.8 153.4 L642.3 153.9 L643.8 154.4 L645.3 154.8 L646.8 155.3 L648.3 155.8 L649.8 156.3 L651.3 156.7 L652.8 157.3 L654.3 157.8 L655.8 158.4 L657.2 158.9 L658.7 159.5 L660.2 160.1 L661.7 160.7 L663.2 161.3 L664.7 161.8 L666.2 162.4 L667.7 163.0 L669.2 163.6 L670.7 164.2 L672.2 164.8 L673.7 165.4 L675.2 165.9 L676.7 166.4 L678.2 167.0 L679.7 167.5 L681.2 168.0 L682.7 168.4 L684.2 168.9 L685.7 169.4 L687.2 169.8 L688.7 170.3 L690.2 170.7 L691.7 171.2 L693.2 171.6 L694.7 172.0 L696.1 172.5 L697.6 172.9 L699.1 173.3 L700.6 173.7 L702.1 174.2 L703.6 174.6 L705.1 175.0 L706.6 175.4 L708.1 175.8 L709.6 176.3 L711.1 176.7 L712.6 177.1 L714.1 177.5 L715.6 178.0 L717.1 178.4 L718.6 178.9 L720.1 179.3 L721.6 179.8 L723.1 180.2 L724.6 180.7 L726.1 181.1 L727.6 181.6 L729.1 182.0 L730.6 182.5 L732.1 183.0 L733.6 183.4 L735.0 183.9 L736.5 184.3 L738.0 184.8 L739.5 185.2 L741.0 185.7 L742.5 186.2 L744.0 186.6 L745.5 187.1 L747.0 187.5 L748.5 188.0 L750.0 188.5 L751.5 188.9 L753.0 189.4 L754.5 189.8 L756.0 190.2 L757.5 190.6 L759.0 190.9 L760.5 191.2 L762.0 191.5 L763.5 191.8 L765.0 192.1 L766.5 192.4 L768.0 192.7 L769.5 193.0 L771.0 193.4 L772.5 193.7 L773.9 194.0 L775.4 194.3 L776.9 194.6 L778.4 194.9 L779.9 195.3 L781.4 195.6 L782.9 195.9 L784.4 196.2 L785.9 196.5 L787.4 196.8 L788.9 197.2 L790.4 197.5 L791.9 197.8 L793.4 198.1" stroke="#ff0000" stroke-width="2.0" stroke-dasharray="5.8 2.5"/>
<path d="M526.3 114.5 L527.8 115.4 L529.3 116.3 L530.8 117.2 L532.3 118.1 L533.8 118.9 L535.3 119.8 L536.8 120.7 L538.3 121.6 L539.8 122.5 L541.3 123.3 L542.8 124.2 L544.3 125.1 L545.8 126.0 L547.3 126.8 L548.8 127.7 L550.3 128.6 L551.8 129.5 L553.3 130.3 L554.8 131.2 L556.3 132.1 L557.8 133.0 L559.3 133.8 L560.8 134.6 L562.3 135.4 L563.8 136.2 L565.4 136.9 L566.9 137.7 L568.4 138.4 L569.9 139.1 L571.4 139.9 L572.9 140.6 L574.4 141.4 L575.9 142.3 L577.4 143.1 L578.9 144.0 L580.4 144.9 L581.9 145.8 L583.4 146.6 L584.9 147.5 L586.4 148.3 L587.9 149.1 L589.4 150.0 L590.9 150.8 L592.4 151.6 L593.9 152.4 L595.4 153.2 L596.9 154.0 L598.4 154.7 L599.9 155.5 L601.4 156.3 L602.9 157.1 L604.4 157.9 L605.9 158.6 L607.4 159.4 L608.9 160.1 L610.4 160.9 L611.9 161.7 L613.4 162.4 L614.9 163.1 L616.4 163.9 L617.9 164.6 L619.4 165.3 L620.9 166.0 L622.4 166.7 L623.9 167.4 L625.4 168.1 L626.9 168.9 L628.4 169.6 L629.9 170.3 L631.4 171.0 L632.9 171.8 L634.4 172.5 L635.9 173.3 L637.4 174.0 L638.9 174.8 L640.4 175.6 L642.0 176.4 L643.5 177.1 L645.0 177.9 L646.5 178.7 L648.0 179.4 L649.5 180.2 L651.0 180.9 L652.5 181.6 L654.0 182.3 L655.5 183.0 L657.0 183.7 L658.5 184.4 L660.0 185.1 L661.5 185.8 L663.0 186.4 L664.5 187.1 L666.0 187.8 L667.5 188.4 L669.0 189.1 L670.5 189.7 L672.0 190.4 L673.5 191.0 L675.0 191.7 L676.5 192.3 L678.0 193.0 L679.5 193.6 L681.0 194.3 L682.5 194.9 L684.0 195.6 L685.5 196.2 L687.0 196.8 L688.5 197.5 L690.0 198.1 L691.5 198.8 L693.0 199.4 L694.5 200.0 L696.0 200.7 L697.5 201.3 L699.0 201.9 L700.5 202.5 L702.0 203.2 L703.5 203.8 L705.0 204.4 L706.5 205.0 L708.0 205.6 L709.5 206.2 L711.0 206.8 L712.5 207.5 L714.0 208.1 L715.5 208.7 L717.0 209.3 L718.5 209.9 L720.1 210.5 L721.6 211.0 L723.1 211.6 L724.6 212.2 L726.1 212.8 L727.6 213.4 L729.1 213.9 L730.6 214.5 L732.1 215.1 L733.6 215.6 L735.1 216.2 L736.6 216.8 L738.1 217.3 L739.6 217.9 L741.1 218.4 L742.6 219.0 L744.1 219.5 L745.6 220.1 L747.1 220.6 L748.6 221.2 L750.1 221.7 L751.6 222.3 L753.1 222.8 L754.6 223.4 L756.1 223.9 L757.6 224.5" stroke="#0000ff" stroke-width="2.0" stroke-dasharray="5.8 2.5"/>
<path d="M665.5 180.7 L667.0 181.0 L668.5 181.3 L670.0 181.6 L671.5 181.9 L673.0 182.2 L674.5 182.4 L676.0 182.7 L677.5 183.0 L679.0 183.2 L680.5 183.5 L682.1 183.8 L683.6 184.0 L685.1 184.3 L686.6 184.5 L688.1 184.8 L689.6 185.0 L691.1 185.3 L692.6 185.5 L694.1 185.7 L695.6 186.0 L697.1 186.2 L698.6 186.5 L700.1 186.7 L701.6 187.0 L703.1 187.2 L704.6 187.4 L706.1 187.7 L707.6 187.9 L709.1 188.1 L710.6 188.4 L712.1 188.6 L713.7 188.8 L715.2 189.1 L716.7 189.3 L718.2 189.5 L719.7 189.8 L721.2 190.0 L722.7 190.2 L724.2 190.4 L725.7 190.7 L727.2 190.9 L728.7 191.1 L730.2 191.3 L731.7 191.5 L733.2 191.7 L734.7 191.9 L736.2 192.2 L737.7 192.4 L739.2 192.6 L740.7 192.8 L742.2 193.0 L743.7 193.2 L745.2 193.3 L746.8 193.5 L748.3 193.7 L749.8 193.9 L751.3 194.1 L752.8 194.3 L754.3 194.5 L755.8 194.7 L757.3 194.9 L758.8 195.1 L760.3 195.3 L761.8 195.5 L763.3 195.7 L764.8 195.9 L766.3 196.1 L767.8 196.3 L769.3 196.5 L770.8 196.7 L772.3 196.9 L773.8 197.1 L775.3 197.3 L776.8 197.4 L778.4 197.6 L779.9 197.8 L781.4 197.9 L782.9 198.1 L784.4 198.2 L785.9 198.4 L787.4 198.5 L788.9 198.7 L790.4 198.8 L791.9 199.0 L793.4 199.1" stroke="#ff8000" stroke-width="2.0"/>
<path d="M554.0 165.6 L555.5 166.1 L557.0 166.6 L558.5 167.1 L560.0 167.5 L561.5 168.0 L563.0 168.5 L564.5 169.0 L566.0 169.5 L567.5 169.9 L569.0 170.4 L570.5 170.8 L572.0 171.2 L573.5 171.7 L574.9 172.1 L576.4 172.5 L577.9 172.9 L579.4 173.3 L580.9 173.7 L582.4 174.1 L583.9 174.5 L585.4 174.8 L586.9 175.2 L588.4 175.6 L589.9 175.9 L591.4 176.3 L592.9 176.6 L594.4 177.0 L595.9 177.3 L597.4 177.7 L598.9 178.0 L600.4 178.3 L601.9 178.7 L603.4 179.0 L604.9 179.3 L606.4 179.6 L607.9 179.9 L609.4 180.2 L610.9 180.5 L612.4 180.8 L613.9 181.1 L615.3 181.4 L616.8 181.7 L618.3 181.9 L619.8 182.2 L621.3 182.5 L622.8 182.8 L624.3 183.0 L625.8 183.3 L627.3 183.6 L628.8 183.8 L630.3 184.1 L631.8 184.3 L633.3 184.6 L634.8 184.8 L636.3 185.0 L637.8 185.3 L639.3 185.5 L640.8 185.7 L642.3 185.9 L643.8 186.1 L645.3 186.3 L646.8 186.5 L648.3 186.8 L649.8 187.0 L651.3 187.2 L652.8 187.4 L654.2 187.7 L655.7 187.9 L657.2 188.2 L658.7 188.5 L660.2 188.8 L661.7 189.1 L663.2 189.4 L664.7 189.7 L666.2 190.0 L667.7 190.3 L669.2 190.6 L670.7 190.9 L672.2 191.2 L673.7 191.4 L675.2 191.6 L676.7 191.9 L678.2 192.1 L679.7 192.3 L681.2 192.4 L682.7 192.6 L684.2 192.8 L685.7 192.9 L687.2 193.1 L688.7 193.2 L690.2 193.4 L691.7 193.5 L693.2 193.7 L694.6 193.8 L696.1 194.0 L697.6 194.1 L699.1 194.2 L700.6 194.4 L702.1 194.5 L703.6 194.6 L705.1 194.7 L706.6 194.8 L708.1 194.9 L709.6 195.0 L711.1 195.1 L712.6 195.2 L714.1 195.3 L715.6 195.4 L717.1 195.4 L718.6 195.5 L720.1 195.6 L721.6 195.6 L723.1 195.7 L724.6 195.8 L726.1 195.8 L727.6 195.9 L729.1 196.0 L730.6 196.0 L732.1 196.1 L733.5 196.2 L735.0 196.2 L736.5 196.3 L738.0 196.3 L739.5 196.3 L741.0 196.4 L742.5 196.4 L744.0 196.4 L745.5 196.5 L747.0 196.5 L748.5 196.5 L750.0 196.5 L751.5 196.5 L753.0 196.5 L754.5 196.5 L756.0 196.5 L757.5 196.5 L759.0 196.5 L760.5 196.5 L762.0 196.4 L763.5 196.4 L765.0 196.4 L766.5 196.4 L768.0 196.4 L769.5 196.4 L771.0 196.4 L772.5 196.3 L773.9 196.3 L775.4 196.3 L776.9 196.3 L778.4 196.2 L779.9 196.1 L781.4 196.1 L782.9 196.0 L784.4 195.9 L785.9 195.8 L787.4 195.7 L788.9 195.6 L790.4 195.5 L791.9 195.5 L793.4 195.4" stroke="#00a600" stroke-width="2.0"/>
<path d="M552.8 168.8 L554.3 169.3 L555.8 169.8 L557.3 170.4 L558.8 170.9 L560.3 171.3 L561.8 171.8 L563.3 172.3 L564.8 172.8 L566.3 173.3 L567.7 173.7 L569.2 174.2 L570.7 174.7 L572.2 175.2 L573.7 175.7 L575.2 176.2 L576.7 176.7 L578.2 177.1 L579.7 177.6 L581.2 178.1 L582.7 178.6 L584.2 179.1 L585.7 179.6 L587.2 180.1 L588.7 180.6 L590.2 181.1 L591.7 181.5 L593.2 182.0 L594.7 182.5 L596.2 183.0 L597.6 183.5 L599.1 183.9 L600.6 184.4 L602.1 184.9 L603.6 185.4 L605.1 185.8 L606.6 186.3 L608.1 186.8 L609.6 187.2 L611.1 187.7 L612.6 188.2 L614.1 188.6 L615.6 189.1 L617.1 189.5 L618.6 190.0 L620.1 190.4 L621.6 190.9 L623.1 191.3 L624.6 191.8 L626.0 192.2 L627.5 192.7 L629.0 193.1 L630.5 193.5 L632.0 194.0 L633.5 194.4 L635.0 194.9 L636.5 195.3 L638.0 195.7 L639.5 196.1 L641.0 196.6 L642.5 197.0 L644.0 197.4 L645.5 197.8 L647.0 198.3 L648.5 198.7 L650.0 199.1 L651.5 199.5 L653.0 200.0 L654.5 200.4 L655.9 200.8 L657.4 201.3 L658.9 201.7 L660.4 202.1 L661.9 202.5 L663.4 203.0 L664.9 203.4 L666.4 203.8 L667.9 204.2 L669.4 204.7 L670.9 205.1 L672.4 205.5 L673.9 205.9 L675.4 206.3 L676.9 206.7 L678.4 207.1 L679.9 207.5 L681.4 207.9 L682.9 208.2 L684.4 208.6 L685.8 209.0 L687.3 209.4 L688.8 209.8 L690.3 210.1 L691.8 210.5 L693.3 210.9 L694.8 211.2 L696.3 211.6 L697.8 212.0 L699.3 212.3 L700.8 212.7 L702.3 213.0 L703.8 213.4 L705.3 213.7 L706.8 214.1 L708.3 214.4 L709.8 214.8 L711.3 215.1 L712.8 215.5 L714.2 215.8 L715.7 216.1 L717.2 216.4 L718.7 216.8 L720.2 217.1 L721.7 217.4 L723.2 217.7 L724.7 218.0 L726.2 218.4 L727.7 218.7 L729.2 219.0 L730.7 219.3 L732.2 219.6 L733.7 219.9 L735.2 220.2 L736.7 220.5 L738.2 220.7 L739.7 221.0 L741.2 221.3 L742.7 221.6 L744.1 221.9 L745.6 222.2 L747.1 222.5 L748.6 222.8 L750.1 223.1 L751.6 223.3 L753.1 223.6 L754.6 223.9 L756.1 224.2 L757.6 224.5" stroke="#9a00b3" stroke-width="2.0"/>
<path d="M535.8 164.4 L537.3 165.1 L538.8 165.7 L540.3 166.4 L541.8 167.1 L543.3 167.7 L544.8 168.3 L546.3 169.0 L547.8 169.6 L549.3 170.3 L550.8 170.9 L552.3 171.5 L553.8 172.1 L555.3 172.7 L556.8 173.4 L558.3 174.0 L559.8 174.6 L561.3 175.2 L562.8 175.8 L564.3 176.4 L565.8 177.0 L567.3 177.6 L568.8 178.2 L570.3 178.8 L571.8 179.4 L573.3 180.0 L574.8 180.5 L576.3 181.1 L577.8 181.7 L579.3 182.3 L580.9 182.9 L582.4 183.5 L583.9 184.0 L585.4 184.6 L586.9 185.2 L588.4 185.7 L589.9 186.3 L591.4 186.9 L592.9 187.4 L594.4 188.0 L595.9 188.5 L597.4 189.0 L598.9 189.6 L600.4 190.1 L601.9 190.6 L603.4 191.1 L604.9 191.6 L606.4 192.1 L607.9 192.6 L609.4 193.1 L610.9 193.6 L612.4 194.1 L613.9 194.6 L615.4 195.0 L616.9 195.5 L618.4 196.0 L619.9 196.4 L621.4 196.9 L622.9 197.4 L624.4 197.8 L625.9 198.3 L627.4 198.8 L628.9 199.2 L630.4 199.6 L631.9 200.1 L633.4 200.5 L634.9 201.0 L636.4 201.4 L637.9 201.8 L639.4 202.3 L640.9 202.7 L642.4 203.1 L643.9 203.6 L645.4 204.0 L646.9 204.4 L648.4 204.9 L649.9 205.4 L651.4 205.8 L652.9 206.3 L654.4 206.8 L655.9 207.3 L657.4 207.8 L658.9 208.3 L660.4 208.8 L661.9 209.3 L663.4 209.9 L664.9 210.4 L666.4 210.9 L667.9 211.4 L669.4 211.9 L671.0 212.5 L672.5 213.0 L674.0 213.5 L675.5 213.9 L677.0 214.4 L678.5 214.9 L680.0 215.3 L681.5 215.8 L683.0 216.2 L684.5 216.6 L686.0 217.1 L687.5 217.5 L689.0 217.9 L690.5 218.3 L692.0 218.7 L693.5 219.2 L695.0 219.6 L696.5 220.0 L698.0 220.4 L699.5 220.8 L701.0 221.1 L702.5 221.5 L704.0 221.9 L705.5 222.3 L707.0 222.7 L708.5 223.0 L710.0 223.4 L711.5 223.8 L713.0 224.1 L714.5 224.5" stroke="#ff0000" stroke-width="2.0"/>
<path d="M503.6 162.5 L505.1 163.3 L506.6 164.1 L508.1 164.9 L509.6 165.7 L511.1 166.5 L512.6 167.3 L514.1 168.1 L515.6 168.9 L517.1 169.7 L518.6 170.5 L520.1 171.2 L521.6 172.0 L523.1 172.8 L524.6 173.6 L526.1 174.3 L527.6 175.1 L529.1 175.9 L530.6 176.6 L532.1 177.4 L533.6 178.1 L535.1 178.9 L536.5 179.7 L538.0 180.4 L539.5 181.2 L541.0 181.9 L542.5 182.7 L544.0 183.4 L545.5 184.2 L547.0 184.9 L548.5 185.7 L550.0 186.4 L551.5 187.2 L553.0 187.9 L554.5 188.7 L556.0 189.4 L557.5 190.2 L559.0 190.9 L560.5 191.6 L562.0 192.4 L563.5 193.1 L565.0 193.9 L566.5 194.6 L568.0 195.4 L569.5 196.1 L571.0 196.8 L572.5 197.6 L574.0 198.3 L575.5 199.0 L577.0 199.7 L578.5 200.4 L580.0 201.1 L581.5 201.8 L583.0 202.5 L584.5 203.2 L586.0 203.9 L587.5 204.6 L589.0 205.3 L590.5 206.0 L592.0 206.7 L593.5 207.3 L595.0 208.0 L596.5 208.7 L598.0 209.4 L599.5 210.1 L600.9 210.8 L602.4 211.5 L603.9 212.1 L605.4 212.8 L606.9 213.5 L608.4 214.2 L609.9 214.9 L611.4 215.6 L612.9 216.3 L614.4 216.9 L615.9 217.6 L617.4 218.3 L618.9 219.0 L620.4 219.7 L621.9 220.3 L623.4 221.0 L624.9 221.7 L626.4 222.4 L627.9 223.0 L629.4 223.7 L630.9 224.3 L632.4 225.0" stroke="#0000ff" stroke-width="2.0"/>
<path d="M647.8 211.6 L649.3 211.9 L650.8 212.1 L652.3 212.4 L653.8 212.7 L655.3 213.0 L656.9 213.3 L658.4 213.6 L659.9 213.9 L661.4 214.2 L662.9 214.5 L664.4 214.8 L665.9 215.1 L667.4 215.4 L668.9 215.7 L670.4 216.0 L672.0 216.3 L673.5 216.5 L675.0 216.8 L676.5 217.1 L678.0 217.3 L679.5 217.5 L681.0 217.8 L682.5 218.0 L684.0 218.2 L685.5 218.5 L687.0 218.7 L688.6 218.9 L690.1 219.1 L691.6 219.4 L693.1 219.6 L694.6 219.8 L696.1 220.0 L697.6 220.2 L699.1 220.4 L700.6 220.6 L702.1 220.8 L703.7 221.0 L705.2 221.2 L706.7 221.4 L708.2 221.5 L709.7 221.7 L711.2 221.9 L712.7 222.0 L714.2 222.2 L715.7 222.4 L717.2 222.5 L718.8 222.6 L720.3 222.8 L721.8 222.9 L723.3 223.0 L724.8 223.1 L726.3 223.2 L727.8 223.3 L729.3 223.4 L730.8 223.5 L732.3 223.6 L733.8 223.7 L735.4 223.8 L736.9 223.9 L738.4 224.0 L739.9 224.1 L741.4 224.2 L742.9 224.3 L744.4 224.4 L745.9 224.5 L747.4 224.6 L748.9 224.6 L750.5 224.7 L752.0 224.8 L753.5 224.9 L755.0 225.0 L756.5 225.1 L758.0 225.2" stroke="#ff8000" stroke-width="2.0" stroke-dasharray="2.9 2.3"/>
<path d="M536.4 198.6 L537.9 199.0 L539.4 199.4 L540.9 199.8 L542.4 200.2 L543.9 200.6 L545.4 201.0 L546.9 201.3 L548.4 201.7 L549.9 202.1 L551.4 202.5 L552.9 202.8 L554.4 203.2 L555.9 203.6 L557.4 204.0 L558.9 204.4 L560.4 204.7 L561.9 205.1 L563.5 205.5 L565.0 205.8 L566.5 206.2 L568.0 206.5 L569.5 206.9 L571.0 207.2 L572.5 207.5 L574.0 207.9 L575.5 208.2 L577.0 208.5 L578.5 208.8 L580.0 209.1 L581.5 209.4 L583.0 209.7 L584.5 210.0 L586.0 210.3 L587.5 210.6 L589.0 210.9 L590.5 211.2 L592.0 211.5 L593.5 211.7 L595.0 212.0 L596.5 212.3 L598.0 212.5 L599.5 212.8 L601.0 213.1 L602.5 213.3 L604.0 213.6 L605.5 213.8 L607.0 214.1 L608.5 214.3 L610.0 214.6 L611.5 214.8 L613.0 215.1 L614.6 215.3 L616.1 215.5 L617.6 215.7 L619.1 216.0 L620.6 216.2 L622.1 216.4 L623.6 216.6 L625.1 216.8 L626.6 217.0 L628.1 217.2 L629.6 217.4 L631.1 217.6 L632.6 217.7 L634.1 217.9 L635.6 218.1 L637.1 218.3 L638.6 218.4 L640.1 218.6 L641.6 218.8 L643.1 218.9 L644.6 219.1 L646.1 219.3 L647.6 219.4 L649.1 219.6 L650.6 219.8 L652.1 219.9 L653.6 220.1 L655.1 220.2 L656.6 220.4 L658.1 220.6 L659.6 220.7 L661.1 220.9 L662.6 221.1 L664.1 221.2 L665.7 221.4 L667.2 221.5 L668.7 221.7 L670.2 221.9 L671.7 222.0 L673.2 222.1 L674.7 222.3 L676.2 222.4 L677.7 222.5 L679.2 222.6 L680.7 222.7 L682.2 222.8 L683.7 222.9 L685.2 223.0 L686.7 223.1 L688.2 223.2 L689.7 223.3 L691.2 223.3 L692.7 223.4 L694.2 223.5 L695.7 223.6 L697.2 223.7 L698.7 223.7 L700.2 223.8 L701.7 223.9 L703.2 223.9 L704.7 224.0 L706.2 224.1 L707.7 224.1 L709.2 224.2 L710.7 224.3 L712.2 224.3 L713.7 224.4 L715.2 224.4 L716.8 224.5 L718.3 224.5 L719.8 224.5 L721.3 224.6 L722.8 224.6 L724.3 224.7 L725.8 224.7 L727.3 224.7 L728.8 224.8 L730.3 224.8 L731.8 224.8 L733.3 224.9 L734.8 224.9 L736.3 224.9 L737.8 224.9 L739.3 224.9 L740.8 224.9 L742.3 224.9 L743.8 224.9 L745.3 224.8 L746.8 224.8 L748.3 224.8 L749.8 224.7 L751.3 224.7 L752.8 224.6 L754.3 224.6 L755.8 224.6 L757.3 224.5 L758.8 224.5 L760.3 224.4 L761.8 224.3 L763.3 224.3 L764.8 224.2 L766.3 224.1 L767.9 224.0 L769.4 223.9 L770.9 223.8 L772.4 223.7 L773.9 223.6 L775.4 223.5 L776.9 223.4 L778.4 223.2 L779.9 223.1 L781.4 223.0 L782.9 222.8 L784.4 222.7 L785.9 222.5 L787.4 222.4 L788.9 222.2 L790.4 222.1 L791.9 221.9 L793.4 221.8" stroke="#00a600" stroke-width="2.0" stroke-dasharray="2.9 2.3"/>
<path d="M537.6 202.4 L539.1 202.9 L540.6 203.4 L542.1 203.9 L543.6 204.4 L545.1 204.9 L546.6 205.4 L548.2 205.8 L549.7 206.3 L551.2 206.8 L552.7 207.2 L554.2 207.6 L555.7 208.1 L557.2 208.5 L558.7 208.9 L560.2 209.4 L561.7 209.8 L563.2 210.2 L564.7 210.6 L566.2 211.0 L567.8 211.5 L569.3 211.9 L570.8 212.3 L572.3 212.7 L573.8 213.2 L575.3 213.6 L576.8 214.0 L578.3 214.5 L579.8 214.9 L581.3 215.4 L582.8 215.8 L584.3 216.3 L585.8 216.7 L587.4 217.1 L588.9 217.6 L590.4 218.0 L591.9 218.5 L593.4 218.9 L594.9 219.3 L596.4 219.7 L597.9 220.2 L599.4 220.6 L600.9 221.0 L602.4 221.4 L603.9 221.8 L605.4 222.2 L607.0 222.6 L608.5 223.0 L610.0 223.4 L611.5 223.8 L613.0 224.2 L614.5 224.6 L616.0 225.0" stroke="#9a00b3" stroke-width="2.0" stroke-dasharray="2.9 2.3"/>
<path d="M521.3 196.3 L522.8 196.8 L524.3 197.4 L525.8 197.9 L527.3 198.4 L528.8 198.9 L530.3 199.5 L531.8 200.0 L533.4 200.5 L534.9 201.0 L536.4 201.6 L537.9 202.1 L539.4 202.6 L540.9 203.1 L542.4 203.7 L543.9 204.2 L545.4 204.7 L546.9 205.2 L548.4 205.7 L549.9 206.3 L551.4 206.8 L552.9 207.3 L554.5 207.8 L556.0 208.3 L557.5 208.8 L559.0 209.3 L560.5 209.8 L562.0 210.3 L563.5 210.8 L565.0 211.3 L566.5 211.8 L568.0 212.3 L569.5 212.8 L571.0 213.3 L572.5 213.8 L574.0 214.3 L575.6 214.7 L577.1 215.2 L578.6 215.7 L580.1 216.1 L581.6 216.6 L583.1 217.0 L584.6 217.4 L586.1 217.9 L587.6 218.3 L589.1 218.8 L590.6 219.2 L592.1 219.7 L593.6 220.1 L595.1 220.6 L596.7 221.1 L598.2 221.5 L599.7 222.0 L601.2 222.5 L602.7 223.0 L604.2 223.5 L605.7 224.0 L607.2 224.5" stroke="#ff0000" stroke-width="2.0" stroke-dasharray="2.9 2.3"/>
<path d="M491.0 196.1 L492.5 196.8 L494.0 197.4 L495.5 198.1 L497.0 198.7 L498.5 199.4 L500.0 200.1 L501.6 200.7 L503.1 201.4 L504.6 202.1 L506.1 202.8 L507.6 203.4 L509.1 204.1 L510.6 204.8 L512.1 205.5 L513.6 206.2 L515.1 206.9 L516.6 207.5 L518.1 208.2 L519.6 208.9 L521.1 209.6 L522.6 210.3 L524.2 210.9 L525.7 211.6 L527.2 212.2 L528.7 212.8 L530.2 213.4 L531.7 214.0 L533.2 214.6 L534.7 215.2 L536.2 215.7 L537.7 216.3 L539.2 216.9 L540.7 217.5 L542.2 218.1 L543.8 218.8 L545.3 219.4 L546.8 220.1 L548.3 220.7 L549.8 221.4 L551.3 222.0 L552.8 222.7 L554.3 223.3" stroke="#0000ff" stroke-width="2.0" stroke-dasharray="2.9 2.3"/>
<path d="M455.6 209.68 H793.8" stroke="#000" stroke-width="1.8" stroke-dasharray="5.7 2.5"/>
<path d="M455.6 233.31 H793.8" stroke="#000" stroke-width="1.8" stroke-dasharray="5.7 2.5"/>
</g>
<path d="M27.0 60.5 V269.15 H363.0" stroke="#000" stroke-width="2.0" fill="none" stroke-linejoin="round"/>
<path d="M45.61 269.0 v-2.2" stroke="#000" stroke-width="1.6"/>
<path d="M64.22 269.0 v-3.6" stroke="#000" stroke-width="1.9"/>
<path d="M82.83 269.0 v-2.2" stroke="#000" stroke-width="1.6"/>
<path d="M101.44 269.0 v-3.6" stroke="#000" stroke-width="1.9"/>
<path d="M120.05 269.0 v-2.2" stroke="#000" stroke-width="1.6"/>
<path d="M138.66 269.0 v-3.6" stroke="#000" stroke-width="1.9"/>
<path d="M157.27 269.0 v-2.2" stroke="#000" stroke-width="1.6"/>
<path d="M175.88 269.0 v-3.6" stroke="#000" stroke-width="1.9"/>
<path d="M194.49 269.0 v-2.2" stroke="#000" stroke-width="1.6"/>
<path d="M213.10 269.0 v-3.6" stroke="#000" stroke-width="1.9"/>
<path d="M231.71 269.0 v-2.2" stroke="#000" stroke-width="1.6"/>
<path d="M250.32 269.0 v-3.6" stroke="#000" stroke-width="1.9"/>
<path d="M268.93 269.0 v-2.2" stroke="#000" stroke-width="1.6"/>
<path d="M287.54 269.0 v-3.6" stroke="#000" stroke-width="1.9"/>
<path d="M306.15 269.0 v-2.2" stroke="#000" stroke-width="1.6"/>
<path d="M324.76 269.0 v-3.6" stroke="#000" stroke-width="1.9"/>
<path d="M343.37 269.0 v-2.2" stroke="#000" stroke-width="1.6"/>
<path d="M361.98 269.0 v-3.6" stroke="#000" stroke-width="1.9"/>
<path d="M27.0 220.21 h3.8" stroke="#000" stroke-width="1.9"/>
<path d="M27.0 171.41 h3.8" stroke="#000" stroke-width="1.9"/>
<path d="M27.0 122.62 h3.8" stroke="#000" stroke-width="1.9"/>
<path d="M27.0 73.82 h3.8" stroke="#000" stroke-width="1.9"/>
<path d="M27.0 256.80 h2.5" stroke="#000" stroke-width="1.6"/>
<path d="M27.0 244.60 h2.5" stroke="#000" stroke-width="1.6"/>
<path d="M27.0 232.40 h2.5" stroke="#000" stroke-width="1.6"/>
<path d="M27.0 208.01 h2.5" stroke="#000" stroke-width="1.6"/>
<path d="M27.0 195.81 h2.5" stroke="#000" stroke-width="1.6"/>
<path d="M27.0 183.61 h2.5" stroke="#000" stroke-width="1.6"/>
<path d="M27.0 159.21 h2.5" stroke="#000" stroke-width="1.6"/>
<path d="M27.0 147.01 h2.5" stroke="#000" stroke-width="1.6"/>
<path d="M27.0 134.82 h2.5" stroke="#000" stroke-width="1.6"/>
<path d="M27.0 110.42 h2.5" stroke="#000" stroke-width="1.6"/>
<path d="M27.0 98.22 h2.5" stroke="#000" stroke-width="1.6"/>
<path d="M27.0 86.02 h2.5" stroke="#000" stroke-width="1.6"/>
<path d="M27.0 61.63 h2.5" stroke="#000" stroke-width="1.6"/>
<path d="M455.6 62.0 V269.15 H791.5999999999999" stroke="#000" stroke-width="2.0" fill="none" stroke-linejoin="round"/>
<path d="M474.21 269.0 v-2.2" stroke="#000" stroke-width="1.6"/>
<path d="M492.82 269.0 v-3.6" stroke="#000" stroke-width="1.9"/>
<path d="M511.43 269.0 v-2.2" stroke="#000" stroke-width="1.6"/>
<path d="M530.04 269.0 v-3.6" stroke="#000" stroke-width="1.9"/>
<path d="M548.65 269.0 v-2.2" stroke="#000" stroke-width="1.6"/>
<path d="M567.26 269.0 v-3.6" stroke="#000" stroke-width="1.9"/>
<path d="M585.87 269.0 v-2.2" stroke="#000" stroke-width="1.6"/>
<path d="M604.48 269.0 v-3.6" stroke="#000" stroke-width="1.9"/>
<path d="M623.09 269.0 v-2.2" stroke="#000" stroke-width="1.6"/>
<path d="M641.70 269.0 v-3.6" stroke="#000" stroke-width="1.9"/>
<path d="M660.31 269.0 v-2.2" stroke="#000" stroke-width="1.6"/>
<path d="M678.92 269.0 v-3.6" stroke="#000" stroke-width="1.9"/>
<path d="M697.53 269.0 v-2.2" stroke="#000" stroke-width="1.6"/>
<path d="M716.14 269.0 v-3.6" stroke="#000" stroke-width="1.9"/>
<path d="M734.75 269.0 v-2.2" stroke="#000" stroke-width="1.6"/>
<path d="M753.36 269.0 v-3.6" stroke="#000" stroke-width="1.9"/>
<path d="M771.97 269.0 v-2.2" stroke="#000" stroke-width="1.6"/>
<path d="M790.58 269.0 v-3.6" stroke="#000" stroke-width="1.9"/>
<path d="M455.6 254.00 h3.8" stroke="#000" stroke-width="1.9"/>
<path d="M455.6 224.45 h3.8" stroke="#000" stroke-width="1.9"/>
<path d="M455.6 194.90 h3.8" stroke="#000" stroke-width="1.9"/>
<path d="M455.6 165.35 h3.8" stroke="#000" stroke-width="1.9"/>
<path d="M455.6 135.80 h3.8" stroke="#000" stroke-width="1.9"/>
<path d="M455.6 106.25 h3.8" stroke="#000" stroke-width="1.9"/>
<path d="M455.6 76.70 h3.8" stroke="#000" stroke-width="1.9"/>
<path d="M455.6 265.82 h2.5" stroke="#000" stroke-width="1.6"/>
<path d="M455.6 259.91 h2.5" stroke="#000" stroke-width="1.6"/>
<path d="M455.6 248.09 h2.5" stroke="#000" stroke-width="1.6"/>
<path d="M455.6 242.18 h2.5" stroke="#000" stroke-width="1.6"/>
<path d="M455.6 236.27 h2.5" stroke="#000" stroke-width="1.6"/>
<path d="M455.6 230.36 h2.5" stroke="#000" stroke-width="1.6"/>
<path d="M455.6 218.54 h2.5" stroke="#000" stroke-width="1.6"/>
<path d="M455.6 212.63 h2.5" stroke="#000" stroke-width="1.6"/>
<path d="M455.6 206.72 h2.5" stroke="#000" stroke-width="1.6"/>
<path d="M455.6 200.81 h2.5" stroke="#000" stroke-width="1.6"/>
<path d="M455.6 188.99 h2.5" stroke="#000" stroke-width="1.6"/>
<path d="M455.6 183.08 h2.5" stroke="#000" stroke-width="1.6"/>
<path d="M455.6 177.17 h2.5" stroke="#000" stroke-width="1.6"/>
<path d="M455.6 171.26 h2.5" stroke="#000" stroke-width="1.6"/>
<path d="M455.6 159.44 h2.5" stroke="#000" stroke-width="1.6"/>
<path d="M455.6 153.53 h2.5" stroke="#000" stroke-width="1.6"/>
<path d="M455.6 147.62 h2.5" stroke="#000" stroke-width="1.6"/>
<path d="M455.6 141.71 h2.5" stroke="#000" stroke-width="1.6"/>
<path d="M455.6 129.89 h2.5" stroke="#000" stroke-width="1.6"/>
<path d="M455.6 123.98 h2.5" stroke="#000" stroke-width="1.6"/>
<path d="M455.6 118.07 h2.5" stroke="#000" stroke-width="1.6"/>
<path d="M455.6 112.16 h2.5" stroke="#000" stroke-width="1.6"/>
<path d="M455.6 100.34 h2.5" stroke="#000" stroke-width="1.6"/>
<path d="M455.6 94.43 h2.5" stroke="#000" stroke-width="1.6"/>
<path d="M455.6 88.52 h2.5" stroke="#000" stroke-width="1.6"/>
<path d="M455.6 82.61 h2.5" stroke="#000" stroke-width="1.6"/>
<path d="M455.6 70.79 h2.5" stroke="#000" stroke-width="1.6"/>
<path d="M455.6 64.88 h2.5" stroke="#000" stroke-width="1.6"/>
<g font-family="'Liberation Sans', sans-serif" fill="#000" filter="url(#gs)">
<text transform="translate(23.5 273.1) scale(1.085 1)" text-anchor="end" font-size="11.3" font-weight="bold" stroke="#000" stroke-width="0.18">0</text>
<text transform="translate(23.5 224.3) scale(1.085 1)" text-anchor="end" font-size="11.3" font-weight="bold" stroke="#000" stroke-width="0.18">200</text>
<text transform="translate(23.5 175.5) scale(1.085 1)" text-anchor="end" font-size="11.3" font-weight="bold" stroke="#000" stroke-width="0.18">400</text>
<text transform="translate(23.5 126.7) scale(1.085 1)" text-anchor="end" font-size="11.3" font-weight="bold" stroke="#000" stroke-width="0.18">600</text>
<text transform="translate(23.5 77.9) scale(1.085 1)" text-anchor="end" font-size="11.3" font-weight="bold" stroke="#000" stroke-width="0.18">800</text>
<text transform="translate(452.2 258.1) scale(1.085 1)" text-anchor="end" font-size="11.3" font-weight="bold" stroke="#000" stroke-width="0.18">1.9</text>
<text transform="translate(452.2 228.5) scale(1.085 1)" text-anchor="end" font-size="11.3" font-weight="bold" stroke="#000" stroke-width="0.18">2.0</text>
<text transform="translate(452.2 199.0) scale(1.085 1)" text-anchor="end" font-size="11.3" font-weight="bold" stroke="#000" stroke-width="0.18">2.1</text>
<text transform="translate(452.2 169.4) scale(1.085 1)" text-anchor="end" font-size="11.3" font-weight="bold" stroke="#000" stroke-width="0.18">2.2</text>
<text transform="translate(452.2 139.9) scale(1.085 1)" text-anchor="end" font-size="11.3" font-weight="bold" stroke="#000" stroke-width="0.18">2.3</text>
<text transform="translate(452.2 110.3) scale(1.085 1)" text-anchor="end" font-size="11.3" font-weight="bold" stroke="#000" stroke-width="0.18">2.4</text>
<text transform="translate(452.2 80.8) scale(1.085 1)" text-anchor="end" font-size="11.3" font-weight="bold" stroke="#000" stroke-width="0.18">2.5</text>
<text transform="translate(64.2 284.4) scale(1.085 1)" text-anchor="middle" font-size="11.3" font-weight="bold" stroke="#000" stroke-width="0.18">1.4</text>
<text transform="translate(492.8 284.4) scale(1.085 1)" text-anchor="middle" font-size="11.3" font-weight="bold" stroke="#000" stroke-width="0.18">1.4</text>
<text transform="translate(138.7 284.4) scale(1.085 1)" text-anchor="middle" font-size="11.3" font-weight="bold" stroke="#000" stroke-width="0.18">1.6</text>
<text transform="translate(567.3 284.4) scale(1.085 1)" text-anchor="middle" font-size="11.3" font-weight="bold" stroke="#000" stroke-width="0.18">1.6</text>
<text transform="translate(213.1 284.4) scale(1.085 1)" text-anchor="middle" font-size="11.3" font-weight="bold" stroke="#000" stroke-width="0.18">1.8</text>
<text transform="translate(641.7 284.4) scale(1.085 1)" text-anchor="middle" font-size="11.3" font-weight="bold" stroke="#000" stroke-width="0.18">1.8</text>
<text transform="translate(287.5 284.4) scale(1.085 1)" text-anchor="middle" font-size="11.3" font-weight="bold" stroke="#000" stroke-width="0.18">2.0</text>
<text transform="translate(716.1 284.4) scale(1.085 1)" text-anchor="middle" font-size="11.3" font-weight="bold" stroke="#000" stroke-width="0.18">2.0</text>
<text transform="translate(362.0 284.4) scale(1.085 1)" text-anchor="middle" font-size="11.3" font-weight="bold" stroke="#000" stroke-width="0.18">2.2</text>
<text transform="translate(790.6 284.4) scale(1.085 1)" text-anchor="middle" font-size="11.3" font-weight="bold" stroke="#000" stroke-width="0.18">2.2</text>
<text transform="translate(355.3 124.1) scale(1.135 1)" text-anchor="end" font-size="10.8" font-weight="bold" stroke="#000" stroke-width="0.18">GW170817</text>
<text transform="translate(462.2 222.6) scale(1.14 1)" text-anchor="start" font-size="10.8" font-weight="bold" stroke="#000" stroke-width="0.18">J0740+6620</text>
<text transform="translate(462.2 246.5) scale(1.14 1)" text-anchor="start" font-size="10.8" font-weight="bold" stroke="#000" stroke-width="0.18">J0348+0432</text>
<text transform="translate(371.8 273.2) scale(1.065 1)" font-size="12" font-weight="bold" font-style="italic" stroke="#000" stroke-width="0.2">n</text><text transform="translate(378.3 275.3) scale(1.1 1)" font-size="8.3" stroke="#000" stroke-width="0.25">tr</text><text transform="translate(384.4 273.2) scale(1.065 1)" font-size="12" font-weight="bold" font-style="italic" stroke="#000" stroke-width="0.2">/</text><text transform="translate(389.4 273.2) scale(1.065 1)" font-size="12" font-weight="bold" font-style="italic" stroke="#000" stroke-width="0.2">n</text><text transform="translate(397.4 275.09999999999997) scale(1.0 1)" font-size="8.2" font-weight="bold" font-style="italic">s</text>
<text transform="translate(800.2 273.2) scale(1.065 1)" font-size="12" font-weight="bold" font-style="italic" stroke="#000" stroke-width="0.2">n</text><text transform="translate(806.7 275.3) scale(1.1 1)" font-size="8.3" stroke="#000" stroke-width="0.25">tr</text><text transform="translate(812.8 273.2) scale(1.065 1)" font-size="12" font-weight="bold" font-style="italic" stroke="#000" stroke-width="0.2">/</text><text transform="translate(817.8 273.2) scale(1.065 1)" font-size="12" font-weight="bold" font-style="italic" stroke="#000" stroke-width="0.2">n</text><text transform="translate(825.8 275.09999999999997) scale(1.0 1)" font-size="8.2" font-weight="bold" font-style="italic">s</text>
<path d="M0.7 51.6 L3.8 43.0 L6.1 43.0 L9.2 51.6 L6.9 51.6 L4.95 45.4 L3.0 51.6 Z" fill="#000"/>
<text transform="translate(9.6 51.6) scale(1.065 1)" font-size="12" font-weight="bold" stroke="#000" stroke-width="0.2">(1.4<tspan font-style="italic">M</tspan></text>
<clipPath id="sc45"><rect x="39.1" y="48.2" width="12" height="9.8"/></clipPath><g clip-path="url(#sc45)"><circle cx="45.1" cy="56.2" r="3.0" fill="none" stroke="#000" stroke-width="1.05"/><circle cx="45.1" cy="56.2" r="0.95" fill="#000"/></g>
<text transform="translate(49.2 51.6) scale(1.065 1)" font-size="12" font-weight="bold" stroke="#000" stroke-width="0.2">)</text>
<text transform="translate(430.9 51.6) scale(1.065 1)" font-size="12" font-weight="bold" font-style="italic" stroke="#000" stroke-width="0.2">M</text>
<text transform="translate(441.3 53.6) scale(1.1 1)" font-size="8.1" stroke="#000" stroke-width="0.25">max</text>
<text transform="translate(458.9 51.6) scale(1.065 1)" font-size="12" font-weight="bold" font-style="italic" stroke="#000" stroke-width="0.2">/</text>
<text transform="translate(463.2 51.6) scale(1.065 1)" font-size="12" font-weight="bold" font-style="italic" stroke="#000" stroke-width="0.2">M</text>
<clipPath id="sc476"><rect x="470.4" y="48.2" width="12" height="9.9"/></clipPath><g clip-path="url(#sc476)"><circle cx="476.4" cy="56.2" r="3.0" fill="none" stroke="#000" stroke-width="1.05"/><circle cx="476.4" cy="56.2" r="0.95" fill="#000"/></g>
<text x="37.1" y="12" font-size="13.4">V−QCD Pot 5b</text>
<text x="167.6" y="12" font-size="13.4">V−QCD Pot 7a</text>
<text x="297.6" y="12" font-size="13.4">V−QCD Pot 8b</text>
<text x="441.4" y="10.6" font-size="13.2">HLPSs</text>
<text x="524" y="10.6" font-size="13.2">APR</text>
<text x="592.1" y="10.6" font-size="13.2">SLy</text>
<text x="655.8" y="10.6" font-size="13.2">HLPSi</text>
<text x="734.2" y="10.6" font-size="13.2">IUF</text>
<text x="796.7" y="10.6" font-size="13.2">DD2</text>
</g>
<path d="M8.3 7.5 H27" stroke="#595959" stroke-width="1.5" stroke-dasharray="3.2 1.9"/>
<path d="M139.2 7.5 H159" stroke="#595959" stroke-width="1.6"/>
<path d="M269 7.5 H289" stroke="#595959" stroke-width="1.6" stroke-dasharray="5 2.5"/>
<path d="M412.6 6.8 H433" stroke="#0000ff" stroke-width="1.6"/>
<path d="M495.2 6.8 H515.8" stroke="#ff0000" stroke-width="1.6"/>
<path d="M563.3 6.8 H584" stroke="#9a00b3" stroke-width="1.6"/>
<path d="M627.2 6.8 H647.7" stroke="#00a600" stroke-width="1.6"/>
<path d="M705.4 6.8 H725.9" stroke="#ff8000" stroke-width="1.6"/>
<path d="M767.9 6.8 H788.2" stroke="#000000" stroke-width="1.6"/>
</svg></body></html>
